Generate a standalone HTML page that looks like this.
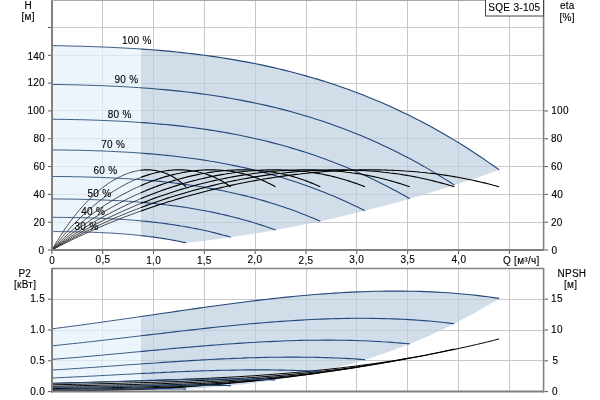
<!DOCTYPE html>
<html><head><meta charset="utf-8"><style>
html,body{margin:0;padding:0;background:#fff;}
svg{display:block;will-change:transform;}
text{font-family:"Liberation Sans",sans-serif;font-size:10px;fill:#000;stroke:#000;stroke-width:0.12px;letter-spacing:0.3px;}
</style></head><body>
<svg width="600" height="400" viewBox="0 0 600 400">
<rect width="600" height="400" fill="#fff"/>
<clipPath id="cl"><rect x="0" y="0" width="141" height="400"/></clipPath>
<clipPath id="cr"><rect x="141" y="0" width="459" height="400"/></clipPath>
<line x1="52" y1="222.50" x2="544" y2="222.50" stroke="#c8c8c8" stroke-width="1"/>
<line x1="52" y1="194.50" x2="544" y2="194.50" stroke="#c8c8c8" stroke-width="1"/>
<line x1="52" y1="166.50" x2="544" y2="166.50" stroke="#c8c8c8" stroke-width="1"/>
<line x1="52" y1="138.50" x2="544" y2="138.50" stroke="#c8c8c8" stroke-width="1"/>
<line x1="52" y1="110.50" x2="544" y2="110.50" stroke="#c8c8c8" stroke-width="1"/>
<line x1="52" y1="83.50" x2="544" y2="83.50" stroke="#c8c8c8" stroke-width="1"/>
<line x1="52" y1="55.50" x2="544" y2="55.50" stroke="#c8c8c8" stroke-width="1"/>
<line x1="52" y1="27.50" x2="544" y2="27.50" stroke="#c8c8c8" stroke-width="1"/>
<line x1="102.50" y1="0" x2="102.50" y2="250.0" stroke="#c8c8c8" stroke-width="1"/>
<line x1="102.50" y1="268.5" x2="102.50" y2="391.6" stroke="#c8c8c8" stroke-width="1"/>
<line x1="153.50" y1="0" x2="153.50" y2="250.0" stroke="#c8c8c8" stroke-width="1"/>
<line x1="153.50" y1="268.5" x2="153.50" y2="391.6" stroke="#c8c8c8" stroke-width="1"/>
<line x1="204.50" y1="0" x2="204.50" y2="250.0" stroke="#c8c8c8" stroke-width="1"/>
<line x1="204.50" y1="268.5" x2="204.50" y2="391.6" stroke="#c8c8c8" stroke-width="1"/>
<line x1="255.50" y1="0" x2="255.50" y2="250.0" stroke="#c8c8c8" stroke-width="1"/>
<line x1="255.50" y1="268.5" x2="255.50" y2="391.6" stroke="#c8c8c8" stroke-width="1"/>
<line x1="306.50" y1="0" x2="306.50" y2="250.0" stroke="#c8c8c8" stroke-width="1"/>
<line x1="306.50" y1="268.5" x2="306.50" y2="391.6" stroke="#c8c8c8" stroke-width="1"/>
<line x1="356.50" y1="0" x2="356.50" y2="250.0" stroke="#c8c8c8" stroke-width="1"/>
<line x1="356.50" y1="268.5" x2="356.50" y2="391.6" stroke="#c8c8c8" stroke-width="1"/>
<line x1="407.50" y1="0" x2="407.50" y2="250.0" stroke="#c8c8c8" stroke-width="1"/>
<line x1="407.50" y1="268.5" x2="407.50" y2="391.6" stroke="#c8c8c8" stroke-width="1"/>
<line x1="458.50" y1="0" x2="458.50" y2="250.0" stroke="#c8c8c8" stroke-width="1"/>
<line x1="458.50" y1="268.5" x2="458.50" y2="391.6" stroke="#c8c8c8" stroke-width="1"/>
<line x1="509.50" y1="0" x2="509.50" y2="250.0" stroke="#c8c8c8" stroke-width="1"/>
<line x1="509.50" y1="268.5" x2="509.50" y2="391.6" stroke="#c8c8c8" stroke-width="1"/>
<line x1="52" y1="360.50" x2="544" y2="360.50" stroke="#c8c8c8" stroke-width="1"/>
<line x1="52" y1="330.50" x2="544" y2="330.50" stroke="#c8c8c8" stroke-width="1"/>
<line x1="52" y1="299.50" x2="544" y2="299.50" stroke="#c8c8c8" stroke-width="1"/>
<path d="M51.9,45.6 57.6,45.7 63.2,45.8 68.9,46.0 74.5,46.1 80.2,46.2 85.9,46.4 91.5,46.6 97.2,46.8 102.9,47.0 108.5,47.2 114.2,47.5 119.8,47.8 125.5,48.1 131.2,48.4 136.8,48.7 142.5,49.1 148.1,49.5 153.8,50.0 159.5,50.4 165.1,50.9 170.8,51.4 176.5,52.0 182.1,52.6 187.8,53.2 193.4,53.9 199.1,54.6 204.8,55.3 210.4,56.1 216.1,56.9 221.7,57.7 227.4,58.6 233.1,59.6 238.7,60.6 244.4,61.6 250.1,62.6 255.7,63.8 261.4,64.9 267.0,66.1 272.7,67.4 278.4,68.7 284.0,70.1 289.7,71.5 295.3,73.0 301.0,74.5 306.7,76.1 312.3,77.7 318.0,79.4 323.7,81.1 329.3,83.0 335.0,84.8 340.6,86.8 346.3,88.8 352.0,90.8 357.6,92.9 363.3,95.1 368.9,97.4 374.6,99.7 380.3,102.1 385.9,104.5 391.6,107.1 397.3,109.7 402.9,112.4 408.6,115.1 414.2,117.9 419.9,120.8 425.6,123.8 431.2,126.8 436.9,130.0 442.5,133.2 448.2,136.5 453.9,139.9 459.5,143.3 465.2,146.8 470.9,150.5 476.5,154.2 482.2,158.0 487.8,161.9 493.5,165.8 499.2,169.9 499.2,169.9 491.1,172.7 483.1,175.5 475.1,178.3 467.0,181.0 459.0,183.6 451.0,186.2 443.0,188.7 434.9,191.2 426.9,193.7 418.9,196.1 410.9,198.4 402.8,200.7 394.8,202.9 386.8,205.1 378.7,207.2 370.7,209.3 362.7,211.3 354.7,213.3 346.6,215.2 338.6,217.1 330.6,218.9 322.5,220.7 314.5,222.4 306.5,224.0 298.5,225.7 290.4,227.2 282.4,228.7 274.4,230.2 266.4,231.6 258.3,232.9 250.3,234.2 242.3,235.5 234.2,236.7 226.2,237.8 218.2,238.9 210.2,240.0 202.1,241.0 194.1,241.9 186.1,242.8 186.1,242.8 184.4,242.4 182.7,242.1 181.0,241.7 179.3,241.4 177.6,241.0 175.9,240.7 174.2,240.4 172.5,240.1 170.8,239.8 169.1,239.5 167.4,239.2 165.7,238.9 164.0,238.6 162.3,238.4 160.6,238.1 158.9,237.9 157.2,237.6 155.5,237.4 153.8,237.1 152.1,236.9 150.4,236.7 148.7,236.5 147.0,236.3 145.3,236.1 143.6,235.9 141.9,235.7 140.2,235.5 138.5,235.3 136.8,235.1 135.1,235.0 133.4,234.8 131.7,234.6 130.0,234.5 128.3,234.3 126.6,234.2 124.9,234.1 123.2,233.9 121.5,233.8 119.8,233.7 118.1,233.6 116.4,233.5 114.7,233.3 113.0,233.2 111.3,233.1 109.6,233.0 107.9,232.9 106.3,232.9 104.6,232.8 102.9,232.7 101.2,232.6 99.5,232.5 97.8,232.5 96.1,232.4 94.4,232.3 92.7,232.3 91.0,232.2 89.3,232.2 87.6,232.1 85.9,232.1 84.2,232.0 82.5,232.0 80.8,232.0 79.1,231.9 77.4,231.9 75.7,231.9 74.0,231.8 72.3,231.8 70.6,231.8 68.9,231.7 67.2,231.7 65.5,231.7 63.8,231.7 62.1,231.7 60.4,231.7 58.7,231.6 57.0,231.6 55.3,231.6 53.6,231.6 51.9,231.6Z" fill="#e5f1fb" fill-opacity="0.7" clip-path="url(#cl)"/>
<path d="M51.9,45.6 57.6,45.7 63.2,45.8 68.9,46.0 74.5,46.1 80.2,46.2 85.9,46.4 91.5,46.6 97.2,46.8 102.9,47.0 108.5,47.2 114.2,47.5 119.8,47.8 125.5,48.1 131.2,48.4 136.8,48.7 142.5,49.1 148.1,49.5 153.8,50.0 159.5,50.4 165.1,50.9 170.8,51.4 176.5,52.0 182.1,52.6 187.8,53.2 193.4,53.9 199.1,54.6 204.8,55.3 210.4,56.1 216.1,56.9 221.7,57.7 227.4,58.6 233.1,59.6 238.7,60.6 244.4,61.6 250.1,62.6 255.7,63.8 261.4,64.9 267.0,66.1 272.7,67.4 278.4,68.7 284.0,70.1 289.7,71.5 295.3,73.0 301.0,74.5 306.7,76.1 312.3,77.7 318.0,79.4 323.7,81.1 329.3,83.0 335.0,84.8 340.6,86.8 346.3,88.8 352.0,90.8 357.6,92.9 363.3,95.1 368.9,97.4 374.6,99.7 380.3,102.1 385.9,104.5 391.6,107.1 397.3,109.7 402.9,112.4 408.6,115.1 414.2,117.9 419.9,120.8 425.6,123.8 431.2,126.8 436.9,130.0 442.5,133.2 448.2,136.5 453.9,139.9 459.5,143.3 465.2,146.8 470.9,150.5 476.5,154.2 482.2,158.0 487.8,161.9 493.5,165.8 499.2,169.9 499.2,169.9 491.1,172.7 483.1,175.5 475.1,178.3 467.0,181.0 459.0,183.6 451.0,186.2 443.0,188.7 434.9,191.2 426.9,193.7 418.9,196.1 410.9,198.4 402.8,200.7 394.8,202.9 386.8,205.1 378.7,207.2 370.7,209.3 362.7,211.3 354.7,213.3 346.6,215.2 338.6,217.1 330.6,218.9 322.5,220.7 314.5,222.4 306.5,224.0 298.5,225.7 290.4,227.2 282.4,228.7 274.4,230.2 266.4,231.6 258.3,232.9 250.3,234.2 242.3,235.5 234.2,236.7 226.2,237.8 218.2,238.9 210.2,240.0 202.1,241.0 194.1,241.9 186.1,242.8 186.1,242.8 184.4,242.4 182.7,242.1 181.0,241.7 179.3,241.4 177.6,241.0 175.9,240.7 174.2,240.4 172.5,240.1 170.8,239.8 169.1,239.5 167.4,239.2 165.7,238.9 164.0,238.6 162.3,238.4 160.6,238.1 158.9,237.9 157.2,237.6 155.5,237.4 153.8,237.1 152.1,236.9 150.4,236.7 148.7,236.5 147.0,236.3 145.3,236.1 143.6,235.9 141.9,235.7 140.2,235.5 138.5,235.3 136.8,235.1 135.1,235.0 133.4,234.8 131.7,234.6 130.0,234.5 128.3,234.3 126.6,234.2 124.9,234.1 123.2,233.9 121.5,233.8 119.8,233.7 118.1,233.6 116.4,233.5 114.7,233.3 113.0,233.2 111.3,233.1 109.6,233.0 107.9,232.9 106.3,232.9 104.6,232.8 102.9,232.7 101.2,232.6 99.5,232.5 97.8,232.5 96.1,232.4 94.4,232.3 92.7,232.3 91.0,232.2 89.3,232.2 87.6,232.1 85.9,232.1 84.2,232.0 82.5,232.0 80.8,232.0 79.1,231.9 77.4,231.9 75.7,231.9 74.0,231.8 72.3,231.8 70.6,231.8 68.9,231.7 67.2,231.7 65.5,231.7 63.8,231.7 62.1,231.7 60.4,231.7 58.7,231.6 57.0,231.6 55.3,231.6 53.6,231.6 51.9,231.6Z" fill="#bdcede" fill-opacity="0.7" clip-path="url(#cr)"/>
<path d="M51.9,328.8 57.6,328.1 63.2,327.4 68.9,326.6 74.5,325.9 80.2,325.2 85.9,324.4 91.5,323.6 97.2,322.8 102.9,322.0 108.5,321.2 114.2,320.4 119.8,319.6 125.5,318.8 131.2,318.0 136.8,317.2 142.5,316.3 148.1,315.5 153.8,314.7 159.5,313.8 165.1,313.0 170.8,312.2 176.5,311.4 182.1,310.5 187.8,309.7 193.4,308.9 199.1,308.1 204.8,307.3 210.4,306.5 216.1,305.7 221.7,305.0 227.4,304.2 233.1,303.5 238.7,302.7 244.4,302.0 250.1,301.3 255.7,300.6 261.4,299.9 267.0,299.3 272.7,298.6 278.4,298.0 284.0,297.4 289.7,296.9 295.3,296.3 301.0,295.8 306.7,295.3 312.3,294.8 318.0,294.3 323.7,293.9 329.3,293.5 335.0,293.1 340.6,292.8 346.3,292.4 352.0,292.1 357.6,291.9 363.3,291.7 368.9,291.5 374.6,291.3 380.3,291.2 385.9,291.1 391.6,291.1 397.3,291.1 402.9,291.1 408.6,291.2 414.2,291.3 419.9,291.4 425.6,291.6 431.2,291.9 436.9,292.1 442.5,292.5 448.2,292.8 453.9,293.3 459.5,293.7 465.2,294.3 470.9,294.8 476.5,295.4 482.2,296.1 487.8,296.8 493.5,297.6 499.2,298.4 499.2,298.4 491.1,303.4 483.1,308.1 475.1,312.7 467.0,317.1 459.0,321.3 451.0,325.4 443.0,329.3 434.9,333.1 426.9,336.7 418.9,340.1 410.9,343.4 402.8,346.6 394.8,349.6 386.8,352.5 378.7,355.2 370.7,357.9 362.7,360.3 354.7,362.7 346.6,364.9 338.6,367.1 330.6,369.1 322.5,371.0 314.5,372.7 306.5,374.4 298.5,376.0 290.4,377.5 282.4,378.8 274.4,380.1 266.4,381.3 258.3,382.4 250.3,383.5 242.3,384.4 234.2,385.3 226.2,386.1 218.2,386.8 210.2,387.5 202.1,388.1 194.1,388.6 186.1,389.1 186.1,389.1 184.4,389.1 182.7,389.0 181.0,389.0 179.3,389.0 177.6,389.0 175.9,389.0 174.2,389.0 172.5,388.9 170.8,388.9 169.1,388.9 167.4,388.9 165.7,388.9 164.0,388.9 162.3,388.9 160.6,388.9 158.9,388.9 157.2,388.9 155.5,388.9 153.8,388.9 152.1,388.9 150.4,388.9 148.7,388.9 147.0,388.9 145.3,388.9 143.6,388.9 141.9,388.9 140.2,388.9 138.5,388.9 136.8,388.9 135.1,389.0 133.4,389.0 131.7,389.0 130.0,389.0 128.3,389.0 126.6,389.0 124.9,389.0 123.2,389.0 121.5,389.1 119.8,389.1 118.1,389.1 116.4,389.1 114.7,389.1 113.0,389.1 111.3,389.2 109.6,389.2 107.9,389.2 106.3,389.2 104.6,389.2 102.9,389.3 101.2,389.3 99.5,389.3 97.8,389.3 96.1,389.3 94.4,389.4 92.7,389.4 91.0,389.4 89.3,389.4 87.6,389.5 85.9,389.5 84.2,389.5 82.5,389.5 80.8,389.5 79.1,389.6 77.4,389.6 75.7,389.6 74.0,389.6 72.3,389.7 70.6,389.7 68.9,389.7 67.2,389.7 65.5,389.7 63.8,389.8 62.1,389.8 60.4,389.8 58.7,389.8 57.0,389.8 55.3,389.9 53.6,389.9 51.9,389.9Z" fill="#e5f1fb" fill-opacity="0.7" clip-path="url(#cl)"/>
<path d="M51.9,328.8 57.6,328.1 63.2,327.4 68.9,326.6 74.5,325.9 80.2,325.2 85.9,324.4 91.5,323.6 97.2,322.8 102.9,322.0 108.5,321.2 114.2,320.4 119.8,319.6 125.5,318.8 131.2,318.0 136.8,317.2 142.5,316.3 148.1,315.5 153.8,314.7 159.5,313.8 165.1,313.0 170.8,312.2 176.5,311.4 182.1,310.5 187.8,309.7 193.4,308.9 199.1,308.1 204.8,307.3 210.4,306.5 216.1,305.7 221.7,305.0 227.4,304.2 233.1,303.5 238.7,302.7 244.4,302.0 250.1,301.3 255.7,300.6 261.4,299.9 267.0,299.3 272.7,298.6 278.4,298.0 284.0,297.4 289.7,296.9 295.3,296.3 301.0,295.8 306.7,295.3 312.3,294.8 318.0,294.3 323.7,293.9 329.3,293.5 335.0,293.1 340.6,292.8 346.3,292.4 352.0,292.1 357.6,291.9 363.3,291.7 368.9,291.5 374.6,291.3 380.3,291.2 385.9,291.1 391.6,291.1 397.3,291.1 402.9,291.1 408.6,291.2 414.2,291.3 419.9,291.4 425.6,291.6 431.2,291.9 436.9,292.1 442.5,292.5 448.2,292.8 453.9,293.3 459.5,293.7 465.2,294.3 470.9,294.8 476.5,295.4 482.2,296.1 487.8,296.8 493.5,297.6 499.2,298.4 499.2,298.4 491.1,303.4 483.1,308.1 475.1,312.7 467.0,317.1 459.0,321.3 451.0,325.4 443.0,329.3 434.9,333.1 426.9,336.7 418.9,340.1 410.9,343.4 402.8,346.6 394.8,349.6 386.8,352.5 378.7,355.2 370.7,357.9 362.7,360.3 354.7,362.7 346.6,364.9 338.6,367.1 330.6,369.1 322.5,371.0 314.5,372.7 306.5,374.4 298.5,376.0 290.4,377.5 282.4,378.8 274.4,380.1 266.4,381.3 258.3,382.4 250.3,383.5 242.3,384.4 234.2,385.3 226.2,386.1 218.2,386.8 210.2,387.5 202.1,388.1 194.1,388.6 186.1,389.1 186.1,389.1 184.4,389.1 182.7,389.0 181.0,389.0 179.3,389.0 177.6,389.0 175.9,389.0 174.2,389.0 172.5,388.9 170.8,388.9 169.1,388.9 167.4,388.9 165.7,388.9 164.0,388.9 162.3,388.9 160.6,388.9 158.9,388.9 157.2,388.9 155.5,388.9 153.8,388.9 152.1,388.9 150.4,388.9 148.7,388.9 147.0,388.9 145.3,388.9 143.6,388.9 141.9,388.9 140.2,388.9 138.5,388.9 136.8,388.9 135.1,389.0 133.4,389.0 131.7,389.0 130.0,389.0 128.3,389.0 126.6,389.0 124.9,389.0 123.2,389.0 121.5,389.1 119.8,389.1 118.1,389.1 116.4,389.1 114.7,389.1 113.0,389.1 111.3,389.2 109.6,389.2 107.9,389.2 106.3,389.2 104.6,389.2 102.9,389.3 101.2,389.3 99.5,389.3 97.8,389.3 96.1,389.3 94.4,389.4 92.7,389.4 91.0,389.4 89.3,389.4 87.6,389.5 85.9,389.5 84.2,389.5 82.5,389.5 80.8,389.5 79.1,389.6 77.4,389.6 75.7,389.6 74.0,389.6 72.3,389.7 70.6,389.7 68.9,389.7 67.2,389.7 65.5,389.7 63.8,389.8 62.1,389.8 60.4,389.8 58.7,389.8 57.0,389.8 55.3,389.9 53.6,389.9 51.9,389.9Z" fill="#bdcede" fill-opacity="0.7" clip-path="url(#cr)"/>
<path d="M51.9,45.6 57.6,45.7 63.2,45.8 68.9,46.0 74.5,46.1 80.2,46.2 85.9,46.4 91.5,46.6 97.2,46.8 102.9,47.0 108.5,47.2 114.2,47.5 119.8,47.8 125.5,48.1 131.2,48.4 136.8,48.7 142.5,49.1 148.1,49.5 153.8,50.0 159.5,50.4 165.1,50.9 170.8,51.4 176.5,52.0 182.1,52.6 187.8,53.2 193.4,53.9 199.1,54.6 204.8,55.3 210.4,56.1 216.1,56.9 221.7,57.7 227.4,58.6 233.1,59.6 238.7,60.6 244.4,61.6 250.1,62.6 255.7,63.8 261.4,64.9 267.0,66.1 272.7,67.4 278.4,68.7 284.0,70.1 289.7,71.5 295.3,73.0 301.0,74.5 306.7,76.1 312.3,77.7 318.0,79.4 323.7,81.1 329.3,83.0 335.0,84.8 340.6,86.8 346.3,88.8 352.0,90.8 357.6,92.9 363.3,95.1 368.9,97.4 374.6,99.7 380.3,102.1 385.9,104.5 391.6,107.1 397.3,109.7 402.9,112.4 408.6,115.1 414.2,117.9 419.9,120.8 425.6,123.8 431.2,126.8 436.9,130.0 442.5,133.2 448.2,136.5 453.9,139.9 459.5,143.3 465.2,146.8 470.9,150.5 476.5,154.2 482.2,158.0 487.8,161.9 493.5,165.8 499.2,169.9" fill="none" stroke="#3d5b85" stroke-width="1.0" clip-path="url(#cl)"/>
<path d="M51.9,45.6 57.6,45.7 63.2,45.8 68.9,46.0 74.5,46.1 80.2,46.2 85.9,46.4 91.5,46.6 97.2,46.8 102.9,47.0 108.5,47.2 114.2,47.5 119.8,47.8 125.5,48.1 131.2,48.4 136.8,48.7 142.5,49.1 148.1,49.5 153.8,50.0 159.5,50.4 165.1,50.9 170.8,51.4 176.5,52.0 182.1,52.6 187.8,53.2 193.4,53.9 199.1,54.6 204.8,55.3 210.4,56.1 216.1,56.9 221.7,57.7 227.4,58.6 233.1,59.6 238.7,60.6 244.4,61.6 250.1,62.6 255.7,63.8 261.4,64.9 267.0,66.1 272.7,67.4 278.4,68.7 284.0,70.1 289.7,71.5 295.3,73.0 301.0,74.5 306.7,76.1 312.3,77.7 318.0,79.4 323.7,81.1 329.3,83.0 335.0,84.8 340.6,86.8 346.3,88.8 352.0,90.8 357.6,92.9 363.3,95.1 368.9,97.4 374.6,99.7 380.3,102.1 385.9,104.5 391.6,107.1 397.3,109.7 402.9,112.4 408.6,115.1 414.2,117.9 419.9,120.8 425.6,123.8 431.2,126.8 436.9,130.0 442.5,133.2 448.2,136.5 453.9,139.9 459.5,143.3 465.2,146.8 470.9,150.5 476.5,154.2 482.2,158.0 487.8,161.9 493.5,165.8 499.2,169.9" fill="none" stroke="#22477a" stroke-width="1.1" clip-path="url(#cr)"/>
<path d="M51.9,84.5 57.0,84.5 62.1,84.6 67.2,84.7 72.3,84.8 77.4,84.9 82.5,85.1 87.6,85.2 92.7,85.4 97.8,85.6 102.9,85.7 107.9,86.0 113.0,86.2 118.1,86.4 123.2,86.7 128.3,87.0 133.4,87.3 138.5,87.6 143.6,88.0 148.7,88.3 153.8,88.7 158.9,89.2 164.0,89.6 169.1,90.1 174.2,90.6 179.3,91.1 184.4,91.7 189.5,92.3 194.6,92.9 199.7,93.6 204.8,94.3 209.9,95.0 215.0,95.8 220.0,96.5 225.1,97.4 230.2,98.2 235.3,99.2 240.4,100.1 245.5,101.1 250.6,102.1 255.7,103.2 260.8,104.3 265.9,105.4 271.0,106.6 276.1,107.8 281.2,109.1 286.3,110.4 291.4,111.8 296.5,113.2 301.6,114.7 306.7,116.2 311.8,117.8 316.9,119.4 322.0,121.1 327.0,122.8 332.1,124.5 337.2,126.4 342.3,128.3 347.4,130.2 352.5,132.2 357.6,134.2 362.7,136.3 367.8,138.5 372.9,140.7 378.0,143.0 383.1,145.4 388.2,147.8 393.3,150.2 398.4,152.8 403.5,155.4 408.6,158.0 413.7,160.8 418.8,163.6 423.9,166.4 429.0,169.4 434.1,172.4 439.1,175.5 444.2,178.6 449.3,181.8 454.4,185.1" fill="none" stroke="#3d5b85" stroke-width="1.0" clip-path="url(#cl)"/>
<path d="M51.9,84.5 57.0,84.5 62.1,84.6 67.2,84.7 72.3,84.8 77.4,84.9 82.5,85.1 87.6,85.2 92.7,85.4 97.8,85.6 102.9,85.7 107.9,86.0 113.0,86.2 118.1,86.4 123.2,86.7 128.3,87.0 133.4,87.3 138.5,87.6 143.6,88.0 148.7,88.3 153.8,88.7 158.9,89.2 164.0,89.6 169.1,90.1 174.2,90.6 179.3,91.1 184.4,91.7 189.5,92.3 194.6,92.9 199.7,93.6 204.8,94.3 209.9,95.0 215.0,95.8 220.0,96.5 225.1,97.4 230.2,98.2 235.3,99.2 240.4,100.1 245.5,101.1 250.6,102.1 255.7,103.2 260.8,104.3 265.9,105.4 271.0,106.6 276.1,107.8 281.2,109.1 286.3,110.4 291.4,111.8 296.5,113.2 301.6,114.7 306.7,116.2 311.8,117.8 316.9,119.4 322.0,121.1 327.0,122.8 332.1,124.5 337.2,126.4 342.3,128.3 347.4,130.2 352.5,132.2 357.6,134.2 362.7,136.3 367.8,138.5 372.9,140.7 378.0,143.0 383.1,145.4 388.2,147.8 393.3,150.2 398.4,152.8 403.5,155.4 408.6,158.0 413.7,160.8 418.8,163.6 423.9,166.4 429.0,169.4 434.1,172.4 439.1,175.5 444.2,178.6 449.3,181.8 454.4,185.1" fill="none" stroke="#22477a" stroke-width="1.1" clip-path="url(#cr)"/>
<path d="M51.9,119.2 56.4,119.3 61.0,119.3 65.5,119.4 70.0,119.5 74.5,119.6 79.1,119.7 83.6,119.8 88.1,119.9 92.7,120.1 97.2,120.2 101.7,120.4 106.3,120.6 110.8,120.8 115.3,121.0 119.8,121.2 124.4,121.4 128.9,121.7 133.4,122.0 138.0,122.3 142.5,122.6 147.0,122.9 151.5,123.3 156.1,123.7 160.6,124.1 165.1,124.5 169.7,124.9 174.2,125.4 178.7,125.9 183.2,126.4 187.8,127.0 192.3,127.5 196.8,128.1 201.4,128.8 205.9,129.4 210.4,130.1 215.0,130.8 219.5,131.6 224.0,132.3 228.5,133.1 233.1,134.0 237.6,134.8 242.1,135.8 246.7,136.7 251.2,137.7 255.7,138.7 260.2,139.7 264.8,140.8 269.3,141.9 273.8,143.1 278.4,144.3 282.9,145.5 287.4,146.8 291.9,148.1 296.5,149.5 301.0,150.9 305.5,152.3 310.1,153.8 314.6,155.3 319.1,156.9 323.7,158.5 328.2,160.2 332.7,161.9 337.2,163.7 341.8,165.5 346.3,167.3 350.8,169.2 355.4,171.2 359.9,173.2 364.4,175.2 368.9,177.3 373.5,179.5 378.0,181.7 382.5,184.0 387.1,186.3 391.6,188.7 396.1,191.1 400.6,193.6 405.2,196.1 409.7,198.7" fill="none" stroke="#3d5b85" stroke-width="1.0" clip-path="url(#cl)"/>
<path d="M51.9,119.2 56.4,119.3 61.0,119.3 65.5,119.4 70.0,119.5 74.5,119.6 79.1,119.7 83.6,119.8 88.1,119.9 92.7,120.1 97.2,120.2 101.7,120.4 106.3,120.6 110.8,120.8 115.3,121.0 119.8,121.2 124.4,121.4 128.9,121.7 133.4,122.0 138.0,122.3 142.5,122.6 147.0,122.9 151.5,123.3 156.1,123.7 160.6,124.1 165.1,124.5 169.7,124.9 174.2,125.4 178.7,125.9 183.2,126.4 187.8,127.0 192.3,127.5 196.8,128.1 201.4,128.8 205.9,129.4 210.4,130.1 215.0,130.8 219.5,131.6 224.0,132.3 228.5,133.1 233.1,134.0 237.6,134.8 242.1,135.8 246.7,136.7 251.2,137.7 255.7,138.7 260.2,139.7 264.8,140.8 269.3,141.9 273.8,143.1 278.4,144.3 282.9,145.5 287.4,146.8 291.9,148.1 296.5,149.5 301.0,150.9 305.5,152.3 310.1,153.8 314.6,155.3 319.1,156.9 323.7,158.5 328.2,160.2 332.7,161.9 337.2,163.7 341.8,165.5 346.3,167.3 350.8,169.2 355.4,171.2 359.9,173.2 364.4,175.2 368.9,177.3 373.5,179.5 378.0,181.7 382.5,184.0 387.1,186.3 391.6,188.7 396.1,191.1 400.6,193.6 405.2,196.1 409.7,198.7" fill="none" stroke="#22477a" stroke-width="1.1" clip-path="url(#cr)"/>
<path d="M51.9,149.9 55.9,149.9 59.8,150.0 63.8,150.0 67.8,150.1 71.7,150.2 75.7,150.2 79.6,150.3 83.6,150.4 87.6,150.5 91.5,150.6 95.5,150.8 99.5,150.9 103.4,151.0 107.4,151.2 111.3,151.4 115.3,151.6 119.3,151.8 123.2,152.0 127.2,152.2 131.2,152.4 135.1,152.7 139.1,153.0 143.1,153.3 147.0,153.6 151.0,153.9 154.9,154.2 158.9,154.6 162.9,155.0 166.8,155.4 170.8,155.8 174.8,156.2 178.7,156.7 182.7,157.2 186.6,157.7 190.6,158.2 194.6,158.7 198.5,159.3 202.5,159.9 206.5,160.5 210.4,161.2 214.4,161.8 218.3,162.5 222.3,163.3 226.3,164.0 230.2,164.8 234.2,165.6 238.2,166.4 242.1,167.3 246.1,168.1 250.1,169.1 254.0,170.0 258.0,171.0 261.9,172.0 265.9,173.0 269.9,174.1 273.8,175.2 277.8,176.4 281.8,177.5 285.7,178.7 289.7,180.0 293.6,181.2 297.6,182.6 301.6,183.9 305.5,185.3 309.5,186.7 313.5,188.2 317.4,189.7 321.4,191.2 325.4,192.8 329.3,194.4 333.3,196.0 337.2,197.7 341.2,199.5 345.2,201.2 349.1,203.0 353.1,204.9 357.1,206.8 361.0,208.8 365.0,210.7" fill="none" stroke="#3d5b85" stroke-width="1.0" clip-path="url(#cl)"/>
<path d="M51.9,149.9 55.9,149.9 59.8,150.0 63.8,150.0 67.8,150.1 71.7,150.2 75.7,150.2 79.6,150.3 83.6,150.4 87.6,150.5 91.5,150.6 95.5,150.8 99.5,150.9 103.4,151.0 107.4,151.2 111.3,151.4 115.3,151.6 119.3,151.8 123.2,152.0 127.2,152.2 131.2,152.4 135.1,152.7 139.1,153.0 143.1,153.3 147.0,153.6 151.0,153.9 154.9,154.2 158.9,154.6 162.9,155.0 166.8,155.4 170.8,155.8 174.8,156.2 178.7,156.7 182.7,157.2 186.6,157.7 190.6,158.2 194.6,158.7 198.5,159.3 202.5,159.9 206.5,160.5 210.4,161.2 214.4,161.8 218.3,162.5 222.3,163.3 226.3,164.0 230.2,164.8 234.2,165.6 238.2,166.4 242.1,167.3 246.1,168.1 250.1,169.1 254.0,170.0 258.0,171.0 261.9,172.0 265.9,173.0 269.9,174.1 273.8,175.2 277.8,176.4 281.8,177.5 285.7,178.7 289.7,180.0 293.6,181.2 297.6,182.6 301.6,183.9 305.5,185.3 309.5,186.7 313.5,188.2 317.4,189.7 321.4,191.2 325.4,192.8 329.3,194.4 333.3,196.0 337.2,197.7 341.2,199.5 345.2,201.2 349.1,203.0 353.1,204.9 357.1,206.8 361.0,208.8 365.0,210.7" fill="none" stroke="#22477a" stroke-width="1.1" clip-path="url(#cr)"/>
<path d="M51.9,176.4 55.3,176.5 58.7,176.5 62.1,176.5 65.5,176.6 68.9,176.6 72.3,176.7 75.7,176.8 79.1,176.8 82.5,176.9 85.9,177.0 89.3,177.1 92.7,177.2 96.1,177.3 99.5,177.4 102.9,177.5 106.3,177.7 109.6,177.8 113.0,178.0 116.4,178.2 119.8,178.3 123.2,178.5 126.6,178.7 130.0,178.9 133.4,179.2 136.8,179.4 140.2,179.6 143.6,179.9 147.0,180.2 150.4,180.5 153.8,180.8 157.2,181.1 160.6,181.4 164.0,181.8 167.4,182.2 170.8,182.6 174.2,183.0 177.6,183.4 181.0,183.8 184.4,184.3 187.8,184.7 191.2,185.2 194.6,185.7 198.0,186.3 201.4,186.8 204.8,187.4 208.2,188.0 211.6,188.6 215.0,189.2 218.3,189.9 221.7,190.5 225.1,191.2 228.5,192.0 231.9,192.7 235.3,193.5 238.7,194.2 242.1,195.1 245.5,195.9 248.9,196.8 252.3,197.6 255.7,198.5 259.1,199.5 262.5,200.4 265.9,201.4 269.3,202.5 272.7,203.5 276.1,204.6 279.5,205.7 282.9,206.8 286.3,207.9 289.7,209.1 293.1,210.3 296.5,211.6 299.9,212.9 303.3,214.2 306.7,215.5 310.1,216.9 313.5,218.3 316.9,219.7 320.3,221.2" fill="none" stroke="#3d5b85" stroke-width="1.0" clip-path="url(#cl)"/>
<path d="M51.9,176.4 55.3,176.5 58.7,176.5 62.1,176.5 65.5,176.6 68.9,176.6 72.3,176.7 75.7,176.8 79.1,176.8 82.5,176.9 85.9,177.0 89.3,177.1 92.7,177.2 96.1,177.3 99.5,177.4 102.9,177.5 106.3,177.7 109.6,177.8 113.0,178.0 116.4,178.2 119.8,178.3 123.2,178.5 126.6,178.7 130.0,178.9 133.4,179.2 136.8,179.4 140.2,179.6 143.6,179.9 147.0,180.2 150.4,180.5 153.8,180.8 157.2,181.1 160.6,181.4 164.0,181.8 167.4,182.2 170.8,182.6 174.2,183.0 177.6,183.4 181.0,183.8 184.4,184.3 187.8,184.7 191.2,185.2 194.6,185.7 198.0,186.3 201.4,186.8 204.8,187.4 208.2,188.0 211.6,188.6 215.0,189.2 218.3,189.9 221.7,190.5 225.1,191.2 228.5,192.0 231.9,192.7 235.3,193.5 238.7,194.2 242.1,195.1 245.5,195.9 248.9,196.8 252.3,197.6 255.7,198.5 259.1,199.5 262.5,200.4 265.9,201.4 269.3,202.5 272.7,203.5 276.1,204.6 279.5,205.7 282.9,206.8 286.3,207.9 289.7,209.1 293.1,210.3 296.5,211.6 299.9,212.9 303.3,214.2 306.7,215.5 310.1,216.9 313.5,218.3 316.9,219.7 320.3,221.2" fill="none" stroke="#22477a" stroke-width="1.1" clip-path="url(#cr)"/>
<path d="M51.9,198.9 54.7,198.9 57.6,199.0 60.4,199.0 63.2,199.0 66.1,199.1 68.9,199.1 71.7,199.1 74.5,199.2 77.4,199.2 80.2,199.3 83.0,199.4 85.9,199.4 88.7,199.5 91.5,199.6 94.4,199.7 97.2,199.8 100.0,199.9 102.9,200.0 105.7,200.1 108.5,200.2 111.3,200.4 114.2,200.5 117.0,200.6 119.8,200.8 122.7,201.0 125.5,201.1 128.3,201.3 131.2,201.5 134.0,201.7 136.8,201.9 139.7,202.2 142.5,202.4 145.3,202.6 148.1,202.9 151.0,203.2 153.8,203.4 156.6,203.7 159.5,204.0 162.3,204.4 165.1,204.7 168.0,205.0 170.8,205.4 173.6,205.7 176.5,206.1 179.3,206.5 182.1,206.9 184.9,207.3 187.8,207.8 190.6,208.2 193.4,208.7 196.3,209.2 199.1,209.7 201.9,210.2 204.8,210.7 207.6,211.3 210.4,211.8 213.3,212.4 216.1,213.0 218.9,213.6 221.7,214.3 224.6,214.9 227.4,215.6 230.2,216.3 233.1,217.0 235.9,217.7 238.7,218.4 241.6,219.2 244.4,220.0 247.2,220.8 250.1,221.6 252.9,222.5 255.7,223.3 258.5,224.2 261.4,225.1 264.2,226.0 267.0,227.0 269.9,228.0 272.7,229.0 275.5,230.0" fill="none" stroke="#3d5b85" stroke-width="1.0" clip-path="url(#cl)"/>
<path d="M51.9,198.9 54.7,198.9 57.6,199.0 60.4,199.0 63.2,199.0 66.1,199.1 68.9,199.1 71.7,199.1 74.5,199.2 77.4,199.2 80.2,199.3 83.0,199.4 85.9,199.4 88.7,199.5 91.5,199.6 94.4,199.7 97.2,199.8 100.0,199.9 102.9,200.0 105.7,200.1 108.5,200.2 111.3,200.4 114.2,200.5 117.0,200.6 119.8,200.8 122.7,201.0 125.5,201.1 128.3,201.3 131.2,201.5 134.0,201.7 136.8,201.9 139.7,202.2 142.5,202.4 145.3,202.6 148.1,202.9 151.0,203.2 153.8,203.4 156.6,203.7 159.5,204.0 162.3,204.4 165.1,204.7 168.0,205.0 170.8,205.4 173.6,205.7 176.5,206.1 179.3,206.5 182.1,206.9 184.9,207.3 187.8,207.8 190.6,208.2 193.4,208.7 196.3,209.2 199.1,209.7 201.9,210.2 204.8,210.7 207.6,211.3 210.4,211.8 213.3,212.4 216.1,213.0 218.9,213.6 221.7,214.3 224.6,214.9 227.4,215.6 230.2,216.3 233.1,217.0 235.9,217.7 238.7,218.4 241.6,219.2 244.4,220.0 247.2,220.8 250.1,221.6 252.9,222.5 255.7,223.3 258.5,224.2 261.4,225.1 264.2,226.0 267.0,227.0 269.9,228.0 272.7,229.0 275.5,230.0" fill="none" stroke="#22477a" stroke-width="1.1" clip-path="url(#cr)"/>
<path d="M51.9,217.3 54.2,217.3 56.4,217.3 58.7,217.4 61.0,217.4 63.2,217.4 65.5,217.4 67.8,217.5 70.0,217.5 72.3,217.5 74.5,217.6 76.8,217.6 79.1,217.6 81.3,217.7 83.6,217.7 85.9,217.8 88.1,217.9 90.4,217.9 92.7,218.0 94.9,218.1 97.2,218.1 99.5,218.2 101.7,218.3 104.0,218.4 106.3,218.5 108.5,218.6 110.8,218.7 113.0,218.8 115.3,219.0 117.6,219.1 119.8,219.2 122.1,219.4 124.4,219.5 126.6,219.7 128.9,219.9 131.2,220.0 133.4,220.2 135.7,220.4 138.0,220.6 140.2,220.8 142.5,221.0 144.7,221.2 147.0,221.4 149.3,221.7 151.5,221.9 153.8,222.2 156.1,222.4 158.3,222.7 160.6,223.0 162.9,223.3 165.1,223.6 167.4,223.9 169.7,224.2 171.9,224.5 174.2,224.9 176.5,225.2 178.7,225.6 181.0,226.0 183.2,226.3 185.5,226.7 187.8,227.1 190.0,227.5 192.3,228.0 194.6,228.4 196.8,228.9 199.1,229.3 201.4,229.8 203.6,230.3 205.9,230.8 208.2,231.3 210.4,231.8 212.7,232.4 215.0,232.9 217.2,233.5 219.5,234.1 221.7,234.7 224.0,235.3 226.3,235.9 228.5,236.5 230.8,237.2" fill="none" stroke="#3d5b85" stroke-width="1.0" clip-path="url(#cl)"/>
<path d="M51.9,217.3 54.2,217.3 56.4,217.3 58.7,217.4 61.0,217.4 63.2,217.4 65.5,217.4 67.8,217.5 70.0,217.5 72.3,217.5 74.5,217.6 76.8,217.6 79.1,217.6 81.3,217.7 83.6,217.7 85.9,217.8 88.1,217.9 90.4,217.9 92.7,218.0 94.9,218.1 97.2,218.1 99.5,218.2 101.7,218.3 104.0,218.4 106.3,218.5 108.5,218.6 110.8,218.7 113.0,218.8 115.3,219.0 117.6,219.1 119.8,219.2 122.1,219.4 124.4,219.5 126.6,219.7 128.9,219.9 131.2,220.0 133.4,220.2 135.7,220.4 138.0,220.6 140.2,220.8 142.5,221.0 144.7,221.2 147.0,221.4 149.3,221.7 151.5,221.9 153.8,222.2 156.1,222.4 158.3,222.7 160.6,223.0 162.9,223.3 165.1,223.6 167.4,223.9 169.7,224.2 171.9,224.5 174.2,224.9 176.5,225.2 178.7,225.6 181.0,226.0 183.2,226.3 185.5,226.7 187.8,227.1 190.0,227.5 192.3,228.0 194.6,228.4 196.8,228.9 199.1,229.3 201.4,229.8 203.6,230.3 205.9,230.8 208.2,231.3 210.4,231.8 212.7,232.4 215.0,232.9 217.2,233.5 219.5,234.1 221.7,234.7 224.0,235.3 226.3,235.9 228.5,236.5 230.8,237.2" fill="none" stroke="#22477a" stroke-width="1.1" clip-path="url(#cr)"/>
<path d="M51.9,231.6 53.6,231.6 55.3,231.6 57.0,231.6 58.7,231.6 60.4,231.7 62.1,231.7 63.8,231.7 65.5,231.7 67.2,231.7 68.9,231.7 70.6,231.8 72.3,231.8 74.0,231.8 75.7,231.9 77.4,231.9 79.1,231.9 80.8,232.0 82.5,232.0 84.2,232.0 85.9,232.1 87.6,232.1 89.3,232.2 91.0,232.2 92.7,232.3 94.4,232.3 96.1,232.4 97.8,232.5 99.5,232.5 101.2,232.6 102.9,232.7 104.6,232.8 106.3,232.9 107.9,232.9 109.6,233.0 111.3,233.1 113.0,233.2 114.7,233.3 116.4,233.5 118.1,233.6 119.8,233.7 121.5,233.8 123.2,233.9 124.9,234.1 126.6,234.2 128.3,234.3 130.0,234.5 131.7,234.6 133.4,234.8 135.1,235.0 136.8,235.1 138.5,235.3 140.2,235.5 141.9,235.7 143.6,235.9 145.3,236.1 147.0,236.3 148.7,236.5 150.4,236.7 152.1,236.9 153.8,237.1 155.5,237.4 157.2,237.6 158.9,237.9 160.6,238.1 162.3,238.4 164.0,238.6 165.7,238.9 167.4,239.2 169.1,239.5 170.8,239.8 172.5,240.1 174.2,240.4 175.9,240.7 177.6,241.0 179.3,241.4 181.0,241.7 182.7,242.1 184.4,242.4 186.1,242.8" fill="none" stroke="#3d5b85" stroke-width="1.0" clip-path="url(#cl)"/>
<path d="M51.9,231.6 53.6,231.6 55.3,231.6 57.0,231.6 58.7,231.6 60.4,231.7 62.1,231.7 63.8,231.7 65.5,231.7 67.2,231.7 68.9,231.7 70.6,231.8 72.3,231.8 74.0,231.8 75.7,231.9 77.4,231.9 79.1,231.9 80.8,232.0 82.5,232.0 84.2,232.0 85.9,232.1 87.6,232.1 89.3,232.2 91.0,232.2 92.7,232.3 94.4,232.3 96.1,232.4 97.8,232.5 99.5,232.5 101.2,232.6 102.9,232.7 104.6,232.8 106.3,232.9 107.9,232.9 109.6,233.0 111.3,233.1 113.0,233.2 114.7,233.3 116.4,233.5 118.1,233.6 119.8,233.7 121.5,233.8 123.2,233.9 124.9,234.1 126.6,234.2 128.3,234.3 130.0,234.5 131.7,234.6 133.4,234.8 135.1,235.0 136.8,235.1 138.5,235.3 140.2,235.5 141.9,235.7 143.6,235.9 145.3,236.1 147.0,236.3 148.7,236.5 150.4,236.7 152.1,236.9 153.8,237.1 155.5,237.4 157.2,237.6 158.9,237.9 160.6,238.1 162.3,238.4 164.0,238.6 165.7,238.9 167.4,239.2 169.1,239.5 170.8,239.8 172.5,240.1 174.2,240.4 175.9,240.7 177.6,241.0 179.3,241.4 181.0,241.7 182.7,242.1 184.4,242.4 186.1,242.8" fill="none" stroke="#22477a" stroke-width="1.1" clip-path="url(#cr)"/>
<path d="M51.9,250.0 55.7,248.0 59.4,246.1 63.2,244.2 66.9,242.3 70.7,240.5 74.5,238.6 78.2,236.8 82.0,235.1 85.7,233.4 89.5,231.7 93.2,230.0 97.0,228.3 100.8,226.7 104.5,225.1 108.3,223.5 112.0,222.0 115.8,220.5 119.6,219.0 123.3,217.5 127.1,216.1 130.8,214.7 134.6,213.3 138.3,211.9 142.1,210.6 145.9,209.3 149.6,208.0 153.4,206.7 157.1,205.4 160.9,204.2 164.7,203.0 168.4,201.8 172.2,200.7 175.9,199.5 179.7,198.4 183.4,197.3 187.2,196.3 191.0,195.2 194.7,194.2 198.5,193.2 202.2,192.2 206.0,191.3 209.8,190.3 213.5,189.4 217.3,188.5 221.0,187.6 224.8,186.8 228.5,185.9 232.3,185.1 236.1,184.3 239.8,183.5 243.6,182.8 247.3,182.0 251.1,181.3 254.9,180.6 258.6,180.0 262.4,179.3 266.1,178.7 269.9,178.1 273.7,177.5 277.4,176.9 281.2,176.4 284.9,175.9 288.7,175.4 292.4,174.9 296.2,174.4 300.0,174.0 303.7,173.5 307.5,173.2 311.2,172.8 315.0,172.4 318.8,172.1 322.5,171.8 326.3,171.5 330.0,171.2 333.8,171.0 337.5,170.8 341.3,170.6 345.1,170.4 348.8,170.2 352.6,170.1 356.3,170.0 360.1,169.9 363.9,169.9 367.6,169.8 371.4,169.8 375.1,169.9 378.9,169.9 382.6,170.0 386.4,170.1 390.2,170.2 393.9,170.4 397.7,170.5 401.4,170.7 405.2,171.0 409.0,171.2 412.7,171.5 416.5,171.8 420.2,172.2 424.0,172.5 427.7,173.0 431.5,173.4 435.3,173.8 439.0,174.3 442.8,174.9 446.5,175.4 450.3,176.0 454.1,176.6 457.8,177.3 461.6,178.0 465.3,178.7 469.1,179.5 472.9,180.3 476.6,181.1 480.4,182.0 484.1,182.9 487.9,183.8 491.6,184.8 495.4,185.8 499.2,186.8" fill="none" stroke="#333" stroke-width="0.9" clip-path="url(#cl)"/>
<path d="M51.9,250.0 55.7,248.0 59.4,246.1 63.2,244.2 66.9,242.3 70.7,240.5 74.5,238.6 78.2,236.8 82.0,235.1 85.7,233.4 89.5,231.7 93.2,230.0 97.0,228.3 100.8,226.7 104.5,225.1 108.3,223.5 112.0,222.0 115.8,220.5 119.6,219.0 123.3,217.5 127.1,216.1 130.8,214.7 134.6,213.3 138.3,211.9 142.1,210.6 145.9,209.3 149.6,208.0 153.4,206.7 157.1,205.4 160.9,204.2 164.7,203.0 168.4,201.8 172.2,200.7 175.9,199.5 179.7,198.4 183.4,197.3 187.2,196.3 191.0,195.2 194.7,194.2 198.5,193.2 202.2,192.2 206.0,191.3 209.8,190.3 213.5,189.4 217.3,188.5 221.0,187.6 224.8,186.8 228.5,185.9 232.3,185.1 236.1,184.3 239.8,183.5 243.6,182.8 247.3,182.0 251.1,181.3 254.9,180.6 258.6,180.0 262.4,179.3 266.1,178.7 269.9,178.1 273.7,177.5 277.4,176.9 281.2,176.4 284.9,175.9 288.7,175.4 292.4,174.9 296.2,174.4 300.0,174.0 303.7,173.5 307.5,173.2 311.2,172.8 315.0,172.4 318.8,172.1 322.5,171.8 326.3,171.5 330.0,171.2 333.8,171.0 337.5,170.8 341.3,170.6 345.1,170.4 348.8,170.2 352.6,170.1 356.3,170.0 360.1,169.9 363.9,169.9 367.6,169.8 371.4,169.8 375.1,169.9 378.9,169.9 382.6,170.0 386.4,170.1 390.2,170.2 393.9,170.4 397.7,170.5 401.4,170.7 405.2,171.0 409.0,171.2 412.7,171.5 416.5,171.8 420.2,172.2 424.0,172.5 427.7,173.0 431.5,173.4 435.3,173.8 439.0,174.3 442.8,174.9 446.5,175.4 450.3,176.0 454.1,176.6 457.8,177.3 461.6,178.0 465.3,178.7 469.1,179.5 472.9,180.3 476.6,181.1 480.4,182.0 484.1,182.9 487.9,183.8 491.6,184.8 495.4,185.8 499.2,186.8" fill="none" stroke="#000" stroke-width="1.15" clip-path="url(#cr)"/>
<path d="M51.9,250.0 55.3,248.0 58.7,246.1 62.0,244.2 65.4,242.3 68.8,240.5 72.2,238.6 75.6,236.8 79.0,235.1 82.3,233.4 85.7,231.7 89.1,230.0 92.5,228.3 95.9,226.7 99.3,225.1 102.6,223.5 106.0,222.0 109.4,220.5 112.8,219.0 116.2,217.5 119.6,216.1 122.9,214.7 126.3,213.3 129.7,211.9 133.1,210.6 136.5,209.3 139.8,208.0 143.2,206.7 146.6,205.4 150.0,204.2 153.4,203.0 156.8,201.8 160.1,200.7 163.5,199.5 166.9,198.4 170.3,197.3 173.7,196.3 177.1,195.2 180.4,194.2 183.8,193.2 187.2,192.2 190.6,191.3 194.0,190.3 197.4,189.4 200.7,188.5 204.1,187.6 207.5,186.8 210.9,185.9 214.3,185.1 217.6,184.3 221.0,183.5 224.4,182.8 227.8,182.0 231.2,181.3 234.6,180.6 237.9,180.0 241.3,179.3 244.7,178.7 248.1,178.1 251.5,177.5 254.9,176.9 258.2,176.4 261.6,175.9 265.0,175.4 268.4,174.9 271.8,174.4 275.2,174.0 278.5,173.5 281.9,173.2 285.3,172.8 288.7,172.4 292.1,172.1 295.4,171.8 298.8,171.5 302.2,171.2 305.6,171.0 309.0,170.8 312.4,170.6 315.7,170.4 319.1,170.2 322.5,170.1 325.9,170.0 329.3,169.9 332.7,169.9 336.0,169.8 339.4,169.8 342.8,169.9 346.2,169.9 349.6,170.0 353.0,170.1 356.3,170.2 359.7,170.4 363.1,170.5 366.5,170.7 369.9,171.0 373.3,171.2 376.6,171.5 380.0,171.8 383.4,172.2 386.8,172.5 390.2,173.0 393.5,173.4 396.9,173.8 400.3,174.3 403.7,174.9 407.1,175.4 410.5,176.0 413.8,176.6 417.2,177.3 420.6,178.0 424.0,178.7 427.4,179.5 430.8,180.3 434.1,181.1 437.5,182.0 440.9,182.9 444.3,183.8 447.7,184.8 451.1,185.8 454.4,186.8" fill="none" stroke="#333" stroke-width="0.9" clip-path="url(#cl)"/>
<path d="M51.9,250.0 55.3,248.0 58.7,246.1 62.0,244.2 65.4,242.3 68.8,240.5 72.2,238.6 75.6,236.8 79.0,235.1 82.3,233.4 85.7,231.7 89.1,230.0 92.5,228.3 95.9,226.7 99.3,225.1 102.6,223.5 106.0,222.0 109.4,220.5 112.8,219.0 116.2,217.5 119.6,216.1 122.9,214.7 126.3,213.3 129.7,211.9 133.1,210.6 136.5,209.3 139.8,208.0 143.2,206.7 146.6,205.4 150.0,204.2 153.4,203.0 156.8,201.8 160.1,200.7 163.5,199.5 166.9,198.4 170.3,197.3 173.7,196.3 177.1,195.2 180.4,194.2 183.8,193.2 187.2,192.2 190.6,191.3 194.0,190.3 197.4,189.4 200.7,188.5 204.1,187.6 207.5,186.8 210.9,185.9 214.3,185.1 217.6,184.3 221.0,183.5 224.4,182.8 227.8,182.0 231.2,181.3 234.6,180.6 237.9,180.0 241.3,179.3 244.7,178.7 248.1,178.1 251.5,177.5 254.9,176.9 258.2,176.4 261.6,175.9 265.0,175.4 268.4,174.9 271.8,174.4 275.2,174.0 278.5,173.5 281.9,173.2 285.3,172.8 288.7,172.4 292.1,172.1 295.4,171.8 298.8,171.5 302.2,171.2 305.6,171.0 309.0,170.8 312.4,170.6 315.7,170.4 319.1,170.2 322.5,170.1 325.9,170.0 329.3,169.9 332.7,169.9 336.0,169.8 339.4,169.8 342.8,169.9 346.2,169.9 349.6,170.0 353.0,170.1 356.3,170.2 359.7,170.4 363.1,170.5 366.5,170.7 369.9,171.0 373.3,171.2 376.6,171.5 380.0,171.8 383.4,172.2 386.8,172.5 390.2,173.0 393.5,173.4 396.9,173.8 400.3,174.3 403.7,174.9 407.1,175.4 410.5,176.0 413.8,176.6 417.2,177.3 420.6,178.0 424.0,178.7 427.4,179.5 430.8,180.3 434.1,181.1 437.5,182.0 440.9,182.9 444.3,183.8 447.7,184.8 451.1,185.8 454.4,186.8" fill="none" stroke="#000" stroke-width="1.15" clip-path="url(#cr)"/>
<path d="M51.9,250.0 54.9,248.0 57.9,246.1 60.9,244.2 63.9,242.3 66.9,240.5 69.9,238.6 72.9,236.8 76.0,235.1 79.0,233.4 82.0,231.7 85.0,230.0 88.0,228.3 91.0,226.7 94.0,225.1 97.0,223.5 100.0,222.0 103.0,220.5 106.0,219.0 109.0,217.5 112.0,216.1 115.0,214.7 118.0,213.3 121.1,211.9 124.1,210.6 127.1,209.3 130.1,208.0 133.1,206.7 136.1,205.4 139.1,204.2 142.1,203.0 145.1,201.8 148.1,200.7 151.1,199.5 154.1,198.4 157.1,197.3 160.1,196.3 163.2,195.2 166.2,194.2 169.2,193.2 172.2,192.2 175.2,191.3 178.2,190.3 181.2,189.4 184.2,188.5 187.2,187.6 190.2,186.8 193.2,185.9 196.2,185.1 199.2,184.3 202.2,183.5 205.2,182.8 208.3,182.0 211.3,181.3 214.3,180.6 217.3,180.0 220.3,179.3 223.3,178.7 226.3,178.1 229.3,177.5 232.3,176.9 235.3,176.4 238.3,175.9 241.3,175.4 244.3,174.9 247.3,174.4 250.3,174.0 253.4,173.5 256.4,173.2 259.4,172.8 262.4,172.4 265.4,172.1 268.4,171.8 271.4,171.5 274.4,171.2 277.4,171.0 280.4,170.8 283.4,170.6 286.4,170.4 289.4,170.2 292.4,170.1 295.4,170.0 298.5,169.9 301.5,169.9 304.5,169.8 307.5,169.8 310.5,169.9 313.5,169.9 316.5,170.0 319.5,170.1 322.5,170.2 325.5,170.4 328.5,170.5 331.5,170.7 334.5,171.0 337.5,171.2 340.6,171.5 343.6,171.8 346.6,172.2 349.6,172.5 352.6,173.0 355.6,173.4 358.6,173.8 361.6,174.3 364.6,174.9 367.6,175.4 370.6,176.0 373.6,176.6 376.6,177.3 379.6,178.0 382.6,178.7 385.7,179.5 388.7,180.3 391.7,181.1 394.7,182.0 397.7,182.9 400.7,183.8 403.7,184.8 406.7,185.8 409.7,186.8" fill="none" stroke="#333" stroke-width="0.9" clip-path="url(#cl)"/>
<path d="M51.9,250.0 54.9,248.0 57.9,246.1 60.9,244.2 63.9,242.3 66.9,240.5 69.9,238.6 72.9,236.8 76.0,235.1 79.0,233.4 82.0,231.7 85.0,230.0 88.0,228.3 91.0,226.7 94.0,225.1 97.0,223.5 100.0,222.0 103.0,220.5 106.0,219.0 109.0,217.5 112.0,216.1 115.0,214.7 118.0,213.3 121.1,211.9 124.1,210.6 127.1,209.3 130.1,208.0 133.1,206.7 136.1,205.4 139.1,204.2 142.1,203.0 145.1,201.8 148.1,200.7 151.1,199.5 154.1,198.4 157.1,197.3 160.1,196.3 163.2,195.2 166.2,194.2 169.2,193.2 172.2,192.2 175.2,191.3 178.2,190.3 181.2,189.4 184.2,188.5 187.2,187.6 190.2,186.8 193.2,185.9 196.2,185.1 199.2,184.3 202.2,183.5 205.2,182.8 208.3,182.0 211.3,181.3 214.3,180.6 217.3,180.0 220.3,179.3 223.3,178.7 226.3,178.1 229.3,177.5 232.3,176.9 235.3,176.4 238.3,175.9 241.3,175.4 244.3,174.9 247.3,174.4 250.3,174.0 253.4,173.5 256.4,173.2 259.4,172.8 262.4,172.4 265.4,172.1 268.4,171.8 271.4,171.5 274.4,171.2 277.4,171.0 280.4,170.8 283.4,170.6 286.4,170.4 289.4,170.2 292.4,170.1 295.4,170.0 298.5,169.9 301.5,169.9 304.5,169.8 307.5,169.8 310.5,169.9 313.5,169.9 316.5,170.0 319.5,170.1 322.5,170.2 325.5,170.4 328.5,170.5 331.5,170.7 334.5,171.0 337.5,171.2 340.6,171.5 343.6,171.8 346.6,172.2 349.6,172.5 352.6,173.0 355.6,173.4 358.6,173.8 361.6,174.3 364.6,174.9 367.6,175.4 370.6,176.0 373.6,176.6 376.6,177.3 379.6,178.0 382.6,178.7 385.7,179.5 388.7,180.3 391.7,181.1 394.7,182.0 397.7,182.9 400.7,183.8 403.7,184.8 406.7,185.8 409.7,186.8" fill="none" stroke="#000" stroke-width="1.15" clip-path="url(#cr)"/>
<path d="M51.9,250.0 54.5,248.0 57.2,246.1 59.8,244.2 62.4,242.3 65.1,240.5 67.7,238.6 70.3,236.8 72.9,235.1 75.6,233.4 78.2,231.7 80.8,230.0 83.5,228.3 86.1,226.7 88.7,225.1 91.4,223.5 94.0,222.0 96.6,220.5 99.3,219.0 101.9,217.5 104.5,216.1 107.1,214.7 109.8,213.3 112.4,211.9 115.0,210.6 117.7,209.3 120.3,208.0 122.9,206.7 125.6,205.4 128.2,204.2 130.8,203.0 133.5,201.8 136.1,200.7 138.7,199.5 141.4,198.4 144.0,197.3 146.6,196.3 149.2,195.2 151.9,194.2 154.5,193.2 157.1,192.2 159.8,191.3 162.4,190.3 165.0,189.4 167.7,188.5 170.3,187.6 172.9,186.8 175.6,185.9 178.2,185.1 180.8,184.3 183.4,183.5 186.1,182.8 188.7,182.0 191.3,181.3 194.0,180.6 196.6,180.0 199.2,179.3 201.9,178.7 204.5,178.1 207.1,177.5 209.8,176.9 212.4,176.4 215.0,175.9 217.6,175.4 220.3,174.9 222.9,174.4 225.5,174.0 228.2,173.5 230.8,173.2 233.4,172.8 236.1,172.4 238.7,172.1 241.3,171.8 244.0,171.5 246.6,171.2 249.2,171.0 251.9,170.8 254.5,170.6 257.1,170.4 259.7,170.2 262.4,170.1 265.0,170.0 267.6,169.9 270.3,169.9 272.9,169.8 275.5,169.8 278.2,169.9 280.8,169.9 283.4,170.0 286.1,170.1 288.7,170.2 291.3,170.4 293.9,170.5 296.6,170.7 299.2,171.0 301.8,171.2 304.5,171.5 307.1,171.8 309.7,172.2 312.4,172.5 315.0,173.0 317.6,173.4 320.3,173.8 322.9,174.3 325.5,174.9 328.1,175.4 330.8,176.0 333.4,176.6 336.0,177.3 338.7,178.0 341.3,178.7 343.9,179.5 346.6,180.3 349.2,181.1 351.8,182.0 354.5,182.9 357.1,183.8 359.7,184.8 362.4,185.8 365.0,186.8" fill="none" stroke="#333" stroke-width="0.9" clip-path="url(#cl)"/>
<path d="M51.9,250.0 54.5,248.0 57.2,246.1 59.8,244.2 62.4,242.3 65.1,240.5 67.7,238.6 70.3,236.8 72.9,235.1 75.6,233.4 78.2,231.7 80.8,230.0 83.5,228.3 86.1,226.7 88.7,225.1 91.4,223.5 94.0,222.0 96.6,220.5 99.3,219.0 101.9,217.5 104.5,216.1 107.1,214.7 109.8,213.3 112.4,211.9 115.0,210.6 117.7,209.3 120.3,208.0 122.9,206.7 125.6,205.4 128.2,204.2 130.8,203.0 133.5,201.8 136.1,200.7 138.7,199.5 141.4,198.4 144.0,197.3 146.6,196.3 149.2,195.2 151.9,194.2 154.5,193.2 157.1,192.2 159.8,191.3 162.4,190.3 165.0,189.4 167.7,188.5 170.3,187.6 172.9,186.8 175.6,185.9 178.2,185.1 180.8,184.3 183.4,183.5 186.1,182.8 188.7,182.0 191.3,181.3 194.0,180.6 196.6,180.0 199.2,179.3 201.9,178.7 204.5,178.1 207.1,177.5 209.8,176.9 212.4,176.4 215.0,175.9 217.6,175.4 220.3,174.9 222.9,174.4 225.5,174.0 228.2,173.5 230.8,173.2 233.4,172.8 236.1,172.4 238.7,172.1 241.3,171.8 244.0,171.5 246.6,171.2 249.2,171.0 251.9,170.8 254.5,170.6 257.1,170.4 259.7,170.2 262.4,170.1 265.0,170.0 267.6,169.9 270.3,169.9 272.9,169.8 275.5,169.8 278.2,169.9 280.8,169.9 283.4,170.0 286.1,170.1 288.7,170.2 291.3,170.4 293.9,170.5 296.6,170.7 299.2,171.0 301.8,171.2 304.5,171.5 307.1,171.8 309.7,172.2 312.4,172.5 315.0,173.0 317.6,173.4 320.3,173.8 322.9,174.3 325.5,174.9 328.1,175.4 330.8,176.0 333.4,176.6 336.0,177.3 338.7,178.0 341.3,178.7 343.9,179.5 346.6,180.3 349.2,181.1 351.8,182.0 354.5,182.9 357.1,183.8 359.7,184.8 362.4,185.8 365.0,186.8" fill="none" stroke="#000" stroke-width="1.15" clip-path="url(#cr)"/>
<path d="M51.9,250.0 54.2,248.0 56.4,246.1 58.7,244.2 60.9,242.3 63.2,240.5 65.4,238.6 67.7,236.8 69.9,235.1 72.2,233.4 74.5,231.7 76.7,230.0 79.0,228.3 81.2,226.7 83.5,225.1 85.7,223.5 88.0,222.0 90.2,220.5 92.5,219.0 94.7,217.5 97.0,216.1 99.3,214.7 101.5,213.3 103.8,211.9 106.0,210.6 108.3,209.3 110.5,208.0 112.8,206.7 115.0,205.4 117.3,204.2 119.6,203.0 121.8,201.8 124.1,200.7 126.3,199.5 128.6,198.4 130.8,197.3 133.1,196.3 135.3,195.2 137.6,194.2 139.8,193.2 142.1,192.2 144.4,191.3 146.6,190.3 148.9,189.4 151.1,188.5 153.4,187.6 155.6,186.8 157.9,185.9 160.1,185.1 162.4,184.3 164.7,183.5 166.9,182.8 169.2,182.0 171.4,181.3 173.7,180.6 175.9,180.0 178.2,179.3 180.4,178.7 182.7,178.1 185.0,177.5 187.2,176.9 189.5,176.4 191.7,175.9 194.0,175.4 196.2,174.9 198.5,174.4 200.7,174.0 203.0,173.5 205.2,173.2 207.5,172.8 209.8,172.4 212.0,172.1 214.3,171.8 216.5,171.5 218.8,171.2 221.0,171.0 223.3,170.8 225.5,170.6 227.8,170.4 230.1,170.2 232.3,170.1 234.6,170.0 236.8,169.9 239.1,169.9 241.3,169.8 243.6,169.8 245.8,169.9 248.1,169.9 250.3,170.0 252.6,170.1 254.9,170.2 257.1,170.4 259.4,170.5 261.6,170.7 263.9,171.0 266.1,171.2 268.4,171.5 270.6,171.8 272.9,172.2 275.2,172.5 277.4,173.0 279.7,173.4 281.9,173.8 284.2,174.3 286.4,174.9 288.7,175.4 290.9,176.0 293.2,176.6 295.4,177.3 297.7,178.0 300.0,178.7 302.2,179.5 304.5,180.3 306.7,181.1 309.0,182.0 311.2,182.9 313.5,183.8 315.7,184.8 318.0,185.8 320.3,186.8" fill="none" stroke="#333" stroke-width="0.9" clip-path="url(#cl)"/>
<path d="M51.9,250.0 54.2,248.0 56.4,246.1 58.7,244.2 60.9,242.3 63.2,240.5 65.4,238.6 67.7,236.8 69.9,235.1 72.2,233.4 74.5,231.7 76.7,230.0 79.0,228.3 81.2,226.7 83.5,225.1 85.7,223.5 88.0,222.0 90.2,220.5 92.5,219.0 94.7,217.5 97.0,216.1 99.3,214.7 101.5,213.3 103.8,211.9 106.0,210.6 108.3,209.3 110.5,208.0 112.8,206.7 115.0,205.4 117.3,204.2 119.6,203.0 121.8,201.8 124.1,200.7 126.3,199.5 128.6,198.4 130.8,197.3 133.1,196.3 135.3,195.2 137.6,194.2 139.8,193.2 142.1,192.2 144.4,191.3 146.6,190.3 148.9,189.4 151.1,188.5 153.4,187.6 155.6,186.8 157.9,185.9 160.1,185.1 162.4,184.3 164.7,183.5 166.9,182.8 169.2,182.0 171.4,181.3 173.7,180.6 175.9,180.0 178.2,179.3 180.4,178.7 182.7,178.1 185.0,177.5 187.2,176.9 189.5,176.4 191.7,175.9 194.0,175.4 196.2,174.9 198.5,174.4 200.7,174.0 203.0,173.5 205.2,173.2 207.5,172.8 209.8,172.4 212.0,172.1 214.3,171.8 216.5,171.5 218.8,171.2 221.0,171.0 223.3,170.8 225.5,170.6 227.8,170.4 230.1,170.2 232.3,170.1 234.6,170.0 236.8,169.9 239.1,169.9 241.3,169.8 243.6,169.8 245.8,169.9 248.1,169.9 250.3,170.0 252.6,170.1 254.9,170.2 257.1,170.4 259.4,170.5 261.6,170.7 263.9,171.0 266.1,171.2 268.4,171.5 270.6,171.8 272.9,172.2 275.2,172.5 277.4,173.0 279.7,173.4 281.9,173.8 284.2,174.3 286.4,174.9 288.7,175.4 290.9,176.0 293.2,176.6 295.4,177.3 297.7,178.0 300.0,178.7 302.2,179.5 304.5,180.3 306.7,181.1 309.0,182.0 311.2,182.9 313.5,183.8 315.7,184.8 318.0,185.8 320.3,186.8" fill="none" stroke="#000" stroke-width="1.15" clip-path="url(#cr)"/>
<path d="M51.9,250.0 53.8,248.0 55.7,246.1 57.5,244.2 59.4,242.3 61.3,240.5 63.2,238.6 65.1,236.8 66.9,235.1 68.8,233.4 70.7,231.7 72.6,230.0 74.5,228.3 76.3,226.7 78.2,225.1 80.1,223.5 82.0,222.0 83.8,220.5 85.7,219.0 87.6,217.5 89.5,216.1 91.4,214.7 93.2,213.3 95.1,211.9 97.0,210.6 98.9,209.3 100.8,208.0 102.6,206.7 104.5,205.4 106.4,204.2 108.3,203.0 110.2,201.8 112.0,200.7 113.9,199.5 115.8,198.4 117.7,197.3 119.6,196.3 121.4,195.2 123.3,194.2 125.2,193.2 127.1,192.2 128.9,191.3 130.8,190.3 132.7,189.4 134.6,188.5 136.5,187.6 138.3,186.8 140.2,185.9 142.1,185.1 144.0,184.3 145.9,183.5 147.7,182.8 149.6,182.0 151.5,181.3 153.4,180.6 155.3,180.0 157.1,179.3 159.0,178.7 160.9,178.1 162.8,177.5 164.7,176.9 166.5,176.4 168.4,175.9 170.3,175.4 172.2,174.9 174.1,174.4 175.9,174.0 177.8,173.5 179.7,173.2 181.6,172.8 183.4,172.4 185.3,172.1 187.2,171.8 189.1,171.5 191.0,171.2 192.8,171.0 194.7,170.8 196.6,170.6 198.5,170.4 200.4,170.2 202.2,170.1 204.1,170.0 206.0,169.9 207.9,169.9 209.8,169.8 211.6,169.8 213.5,169.9 215.4,169.9 217.3,170.0 219.2,170.1 221.0,170.2 222.9,170.4 224.8,170.5 226.7,170.7 228.5,171.0 230.4,171.2 232.3,171.5 234.2,171.8 236.1,172.2 237.9,172.5 239.8,173.0 241.7,173.4 243.6,173.8 245.5,174.3 247.3,174.9 249.2,175.4 251.1,176.0 253.0,176.6 254.9,177.3 256.7,178.0 258.6,178.7 260.5,179.5 262.4,180.3 264.3,181.1 266.1,182.0 268.0,182.9 269.9,183.8 271.8,184.8 273.7,185.8 275.5,186.8" fill="none" stroke="#333" stroke-width="0.9" clip-path="url(#cl)"/>
<path d="M51.9,250.0 53.8,248.0 55.7,246.1 57.5,244.2 59.4,242.3 61.3,240.5 63.2,238.6 65.1,236.8 66.9,235.1 68.8,233.4 70.7,231.7 72.6,230.0 74.5,228.3 76.3,226.7 78.2,225.1 80.1,223.5 82.0,222.0 83.8,220.5 85.7,219.0 87.6,217.5 89.5,216.1 91.4,214.7 93.2,213.3 95.1,211.9 97.0,210.6 98.9,209.3 100.8,208.0 102.6,206.7 104.5,205.4 106.4,204.2 108.3,203.0 110.2,201.8 112.0,200.7 113.9,199.5 115.8,198.4 117.7,197.3 119.6,196.3 121.4,195.2 123.3,194.2 125.2,193.2 127.1,192.2 128.9,191.3 130.8,190.3 132.7,189.4 134.6,188.5 136.5,187.6 138.3,186.8 140.2,185.9 142.1,185.1 144.0,184.3 145.9,183.5 147.7,182.8 149.6,182.0 151.5,181.3 153.4,180.6 155.3,180.0 157.1,179.3 159.0,178.7 160.9,178.1 162.8,177.5 164.7,176.9 166.5,176.4 168.4,175.9 170.3,175.4 172.2,174.9 174.1,174.4 175.9,174.0 177.8,173.5 179.7,173.2 181.6,172.8 183.4,172.4 185.3,172.1 187.2,171.8 189.1,171.5 191.0,171.2 192.8,171.0 194.7,170.8 196.6,170.6 198.5,170.4 200.4,170.2 202.2,170.1 204.1,170.0 206.0,169.9 207.9,169.9 209.8,169.8 211.6,169.8 213.5,169.9 215.4,169.9 217.3,170.0 219.2,170.1 221.0,170.2 222.9,170.4 224.8,170.5 226.7,170.7 228.5,171.0 230.4,171.2 232.3,171.5 234.2,171.8 236.1,172.2 237.9,172.5 239.8,173.0 241.7,173.4 243.6,173.8 245.5,174.3 247.3,174.9 249.2,175.4 251.1,176.0 253.0,176.6 254.9,177.3 256.7,178.0 258.6,178.7 260.5,179.5 262.4,180.3 264.3,181.1 266.1,182.0 268.0,182.9 269.9,183.8 271.8,184.8 273.7,185.8 275.5,186.8" fill="none" stroke="#000" stroke-width="1.15" clip-path="url(#cr)"/>
<path d="M51.9,250.0 53.4,248.0 54.9,246.1 56.4,244.2 57.9,242.3 59.4,240.5 60.9,238.6 62.4,236.8 63.9,235.1 65.4,233.4 66.9,231.7 68.4,230.0 69.9,228.3 71.4,226.7 72.9,225.1 74.5,223.5 76.0,222.0 77.5,220.5 79.0,219.0 80.5,217.5 82.0,216.1 83.5,214.7 85.0,213.3 86.5,211.9 88.0,210.6 89.5,209.3 91.0,208.0 92.5,206.7 94.0,205.4 95.5,204.2 97.0,203.0 98.5,201.8 100.0,200.7 101.5,199.5 103.0,198.4 104.5,197.3 106.0,196.3 107.5,195.2 109.0,194.2 110.5,193.2 112.0,192.2 113.5,191.3 115.0,190.3 116.5,189.4 118.0,188.5 119.6,187.6 121.1,186.8 122.6,185.9 124.1,185.1 125.6,184.3 127.1,183.5 128.6,182.8 130.1,182.0 131.6,181.3 133.1,180.6 134.6,180.0 136.1,179.3 137.6,178.7 139.1,178.1 140.6,177.5 142.1,176.9 143.6,176.4 145.1,175.9 146.6,175.4 148.1,174.9 149.6,174.4 151.1,174.0 152.6,173.5 154.1,173.2 155.6,172.8 157.1,172.4 158.6,172.1 160.1,171.8 161.6,171.5 163.2,171.2 164.7,171.0 166.2,170.8 167.7,170.6 169.2,170.4 170.7,170.2 172.2,170.1 173.7,170.0 175.2,169.9 176.7,169.9 178.2,169.8 179.7,169.8 181.2,169.9 182.7,169.9 184.2,170.0 185.7,170.1 187.2,170.2 188.7,170.4 190.2,170.5 191.7,170.7 193.2,171.0 194.7,171.2 196.2,171.5 197.7,171.8 199.2,172.2 200.7,172.5 202.2,173.0 203.7,173.4 205.2,173.8 206.7,174.3 208.3,174.9 209.8,175.4 211.3,176.0 212.8,176.6 214.3,177.3 215.8,178.0 217.3,178.7 218.8,179.5 220.3,180.3 221.8,181.1 223.3,182.0 224.8,182.9 226.3,183.8 227.8,184.8 229.3,185.8 230.8,186.8" fill="none" stroke="#333" stroke-width="0.9" clip-path="url(#cl)"/>
<path d="M51.9,250.0 53.4,248.0 54.9,246.1 56.4,244.2 57.9,242.3 59.4,240.5 60.9,238.6 62.4,236.8 63.9,235.1 65.4,233.4 66.9,231.7 68.4,230.0 69.9,228.3 71.4,226.7 72.9,225.1 74.5,223.5 76.0,222.0 77.5,220.5 79.0,219.0 80.5,217.5 82.0,216.1 83.5,214.7 85.0,213.3 86.5,211.9 88.0,210.6 89.5,209.3 91.0,208.0 92.5,206.7 94.0,205.4 95.5,204.2 97.0,203.0 98.5,201.8 100.0,200.7 101.5,199.5 103.0,198.4 104.5,197.3 106.0,196.3 107.5,195.2 109.0,194.2 110.5,193.2 112.0,192.2 113.5,191.3 115.0,190.3 116.5,189.4 118.0,188.5 119.6,187.6 121.1,186.8 122.6,185.9 124.1,185.1 125.6,184.3 127.1,183.5 128.6,182.8 130.1,182.0 131.6,181.3 133.1,180.6 134.6,180.0 136.1,179.3 137.6,178.7 139.1,178.1 140.6,177.5 142.1,176.9 143.6,176.4 145.1,175.9 146.6,175.4 148.1,174.9 149.6,174.4 151.1,174.0 152.6,173.5 154.1,173.2 155.6,172.8 157.1,172.4 158.6,172.1 160.1,171.8 161.6,171.5 163.2,171.2 164.7,171.0 166.2,170.8 167.7,170.6 169.2,170.4 170.7,170.2 172.2,170.1 173.7,170.0 175.2,169.9 176.7,169.9 178.2,169.8 179.7,169.8 181.2,169.9 182.7,169.9 184.2,170.0 185.7,170.1 187.2,170.2 188.7,170.4 190.2,170.5 191.7,170.7 193.2,171.0 194.7,171.2 196.2,171.5 197.7,171.8 199.2,172.2 200.7,172.5 202.2,173.0 203.7,173.4 205.2,173.8 206.7,174.3 208.3,174.9 209.8,175.4 211.3,176.0 212.8,176.6 214.3,177.3 215.8,178.0 217.3,178.7 218.8,179.5 220.3,180.3 221.8,181.1 223.3,182.0 224.8,182.9 226.3,183.8 227.8,184.8 229.3,185.8 230.8,186.8" fill="none" stroke="#000" stroke-width="1.15" clip-path="url(#cr)"/>
<path d="M51.9,250.0 53.0,248.0 54.2,246.1 55.3,244.2 56.4,242.3 57.5,240.5 58.7,238.6 59.8,236.8 60.9,235.1 62.0,233.4 63.2,231.7 64.3,230.0 65.4,228.3 66.6,226.7 67.7,225.1 68.8,223.5 69.9,222.0 71.1,220.5 72.2,219.0 73.3,217.5 74.5,216.1 75.6,214.7 76.7,213.3 77.8,211.9 79.0,210.6 80.1,209.3 81.2,208.0 82.3,206.7 83.5,205.4 84.6,204.2 85.7,203.0 86.9,201.8 88.0,200.7 89.1,199.5 90.2,198.4 91.4,197.3 92.5,196.3 93.6,195.2 94.7,194.2 95.9,193.2 97.0,192.2 98.1,191.3 99.3,190.3 100.4,189.4 101.5,188.5 102.6,187.6 103.8,186.8 104.9,185.9 106.0,185.1 107.1,184.3 108.3,183.5 109.4,182.8 110.5,182.0 111.7,181.3 112.8,180.6 113.9,180.0 115.0,179.3 116.2,178.7 117.3,178.1 118.4,177.5 119.6,176.9 120.7,176.4 121.8,175.9 122.9,175.4 124.1,174.9 125.2,174.4 126.3,174.0 127.4,173.5 128.6,173.2 129.7,172.8 130.8,172.4 132.0,172.1 133.1,171.8 134.2,171.5 135.3,171.2 136.5,171.0 137.6,170.8 138.7,170.6 139.8,170.4 141.0,170.2 142.1,170.1 143.2,170.0 144.4,169.9 145.5,169.9 146.6,169.8 147.7,169.8 148.9,169.9 150.0,169.9 151.1,170.0 152.3,170.1 153.4,170.2 154.5,170.4 155.6,170.5 156.8,170.7 157.9,171.0 159.0,171.2 160.1,171.5 161.3,171.8 162.4,172.2 163.5,172.5 164.7,173.0 165.8,173.4 166.9,173.8 168.0,174.3 169.2,174.9 170.3,175.4 171.4,176.0 172.5,176.6 173.7,177.3 174.8,178.0 175.9,178.7 177.1,179.5 178.2,180.3 179.3,181.1 180.4,182.0 181.6,182.9 182.7,183.8 183.8,184.8 185.0,185.8 186.1,186.8" fill="none" stroke="#333" stroke-width="0.9" clip-path="url(#cl)"/>
<path d="M51.9,250.0 53.0,248.0 54.2,246.1 55.3,244.2 56.4,242.3 57.5,240.5 58.7,238.6 59.8,236.8 60.9,235.1 62.0,233.4 63.2,231.7 64.3,230.0 65.4,228.3 66.6,226.7 67.7,225.1 68.8,223.5 69.9,222.0 71.1,220.5 72.2,219.0 73.3,217.5 74.5,216.1 75.6,214.7 76.7,213.3 77.8,211.9 79.0,210.6 80.1,209.3 81.2,208.0 82.3,206.7 83.5,205.4 84.6,204.2 85.7,203.0 86.9,201.8 88.0,200.7 89.1,199.5 90.2,198.4 91.4,197.3 92.5,196.3 93.6,195.2 94.7,194.2 95.9,193.2 97.0,192.2 98.1,191.3 99.3,190.3 100.4,189.4 101.5,188.5 102.6,187.6 103.8,186.8 104.9,185.9 106.0,185.1 107.1,184.3 108.3,183.5 109.4,182.8 110.5,182.0 111.7,181.3 112.8,180.6 113.9,180.0 115.0,179.3 116.2,178.7 117.3,178.1 118.4,177.5 119.6,176.9 120.7,176.4 121.8,175.9 122.9,175.4 124.1,174.9 125.2,174.4 126.3,174.0 127.4,173.5 128.6,173.2 129.7,172.8 130.8,172.4 132.0,172.1 133.1,171.8 134.2,171.5 135.3,171.2 136.5,171.0 137.6,170.8 138.7,170.6 139.8,170.4 141.0,170.2 142.1,170.1 143.2,170.0 144.4,169.9 145.5,169.9 146.6,169.8 147.7,169.8 148.9,169.9 150.0,169.9 151.1,170.0 152.3,170.1 153.4,170.2 154.5,170.4 155.6,170.5 156.8,170.7 157.9,171.0 159.0,171.2 160.1,171.5 161.3,171.8 162.4,172.2 163.5,172.5 164.7,173.0 165.8,173.4 166.9,173.8 168.0,174.3 169.2,174.9 170.3,175.4 171.4,176.0 172.5,176.6 173.7,177.3 174.8,178.0 175.9,178.7 177.1,179.5 178.2,180.3 179.3,181.1 180.4,182.0 181.6,182.9 182.7,183.8 183.8,184.8 185.0,185.8 186.1,186.8" fill="none" stroke="#000" stroke-width="1.15" clip-path="url(#cr)"/>
<path d="M51.9,383.3 57.6,383.1 63.2,383.0 68.9,382.8 74.5,382.7 80.2,382.6 85.9,382.4 91.5,382.3 97.2,382.1 102.9,382.0 108.5,381.8 114.2,381.7 119.8,381.5 125.5,381.4 131.2,381.2 136.8,381.0 142.5,380.8 148.1,380.7 153.8,380.5 159.5,380.3 165.1,380.1 170.8,379.9 176.5,379.7 182.1,379.4 187.8,379.2 193.4,379.0 199.1,378.7 204.8,378.5 210.4,378.2 216.1,377.9 221.7,377.6 227.4,377.3 233.1,377.0 238.7,376.7 244.4,376.3 250.1,376.0 255.7,375.6 261.4,375.2 267.0,374.8 272.7,374.4 278.4,373.9 284.0,373.5 289.7,373.0 295.3,372.5 301.0,372.0 306.7,371.5 312.3,370.9 318.0,370.3 323.7,369.8 329.3,369.2 335.0,368.5 340.6,367.9 346.3,367.2 352.0,366.5 357.6,365.8 363.3,365.0 368.9,364.3 374.6,363.5 380.3,362.7 385.9,361.8 391.6,361.0 397.3,360.1 402.9,359.1 408.6,358.2 414.2,357.2 419.9,356.2 425.6,355.2 431.2,354.1 436.9,353.0 442.5,351.9 448.2,350.7 453.9,349.6 459.5,348.3 465.2,347.1 470.9,345.8 476.5,344.5 482.2,343.2 487.8,341.8 493.5,340.4 499.2,338.9" fill="none" stroke="#000" stroke-width="1.0"/>
<path d="M51.9,384.9 57.0,384.7 62.1,384.6 67.2,384.5 72.3,384.4 77.4,384.3 82.5,384.2 87.6,384.0 92.7,383.9 97.8,383.8 102.9,383.7 107.9,383.6 113.0,383.4 118.1,383.3 123.2,383.2 128.3,383.0 133.4,382.9 138.5,382.7 143.6,382.6 148.7,382.4 153.8,382.3 158.9,382.1 164.0,381.9 169.1,381.8 174.2,381.6 179.3,381.4 184.4,381.2 189.5,381.0 194.6,380.7 199.7,380.5 204.8,380.3 209.9,380.0 215.0,379.8 220.0,379.5 225.1,379.2 230.2,378.9 235.3,378.6 240.4,378.3 245.5,378.0 250.6,377.6 255.7,377.3 260.8,376.9 265.9,376.5 271.0,376.1 276.1,375.7 281.2,375.3 286.3,374.8 291.4,374.4 296.5,373.9 301.6,373.4 306.7,372.9 311.8,372.4 316.9,371.8 322.0,371.3 327.0,370.7 332.1,370.1 337.2,369.5 342.3,368.8 347.4,368.2 352.5,367.5 357.6,366.8 362.7,366.1 367.8,365.3 372.9,364.5 378.0,363.8 383.1,362.9 388.2,362.1 393.3,361.2 398.4,360.4 403.5,359.4 408.6,358.5 413.7,357.5 418.8,356.6 423.9,355.6 429.0,354.5 434.1,353.4 439.1,352.4 444.2,351.2 449.3,350.1 454.4,348.9" fill="none" stroke="#000" stroke-width="1.0"/>
<path d="M51.9,386.3 56.4,386.2 61.0,386.1 65.5,386.0 70.0,385.9 74.5,385.8 79.1,385.7 83.6,385.6 88.1,385.5 92.7,385.4 97.2,385.3 101.7,385.2 106.3,385.1 110.8,385.0 115.3,384.9 119.8,384.8 124.4,384.7 128.9,384.6 133.4,384.5 138.0,384.4 142.5,384.2 147.0,384.1 151.5,384.0 156.1,383.8 160.6,383.7 165.1,383.5 169.7,383.4 174.2,383.2 178.7,383.0 183.2,382.8 187.8,382.7 192.3,382.5 196.8,382.2 201.4,382.0 205.9,381.8 210.4,381.6 215.0,381.3 219.5,381.1 224.0,380.8 228.5,380.6 233.1,380.3 237.6,380.0 242.1,379.7 246.7,379.4 251.2,379.1 255.7,378.7 260.2,378.4 264.8,378.0 269.3,377.6 273.8,377.2 278.4,376.8 282.9,376.4 287.4,376.0 291.9,375.5 296.5,375.1 301.0,374.6 305.5,374.1 310.1,373.6 314.6,373.1 319.1,372.5 323.7,372.0 328.2,371.4 332.7,370.8 337.2,370.2 341.8,369.6 346.3,369.0 350.8,368.3 355.4,367.6 359.9,366.9 364.4,366.2 368.9,365.5 373.5,364.7 378.0,363.9 382.5,363.1 387.1,362.3 391.6,361.5 396.1,360.6 400.6,359.7 405.2,358.8 409.7,357.9" fill="none" stroke="#000" stroke-width="1.0"/>
<path d="M51.9,387.5 55.9,387.4 59.8,387.4 63.8,387.3 67.8,387.2 71.7,387.2 75.7,387.1 79.6,387.0 83.6,387.0 87.6,386.9 91.5,386.8 95.5,386.7 99.5,386.7 103.4,386.6 107.4,386.5 111.3,386.4 115.3,386.3 119.3,386.2 123.2,386.2 127.2,386.1 131.2,386.0 135.1,385.9 139.1,385.8 143.1,385.6 147.0,385.5 151.0,385.4 154.9,385.3 158.9,385.2 162.9,385.0 166.8,384.9 170.8,384.7 174.8,384.6 178.7,384.4 182.7,384.3 186.6,384.1 190.6,383.9 194.6,383.7 198.5,383.6 202.5,383.4 206.5,383.2 210.4,382.9 214.4,382.7 218.3,382.5 222.3,382.2 226.3,382.0 230.2,381.7 234.2,381.5 238.2,381.2 242.1,380.9 246.1,380.6 250.1,380.3 254.0,380.0 258.0,379.6 261.9,379.3 265.9,379.0 269.9,378.6 273.8,378.2 277.8,377.8 281.8,377.4 285.7,377.0 289.7,376.6 293.6,376.1 297.6,375.7 301.6,375.2 305.5,374.8 309.5,374.3 313.5,373.8 317.4,373.2 321.4,372.7 325.4,372.1 329.3,371.6 333.3,371.0 337.2,370.4 341.2,369.8 345.2,369.2 349.1,368.5 353.1,367.9 357.1,367.2 361.0,366.5 365.0,365.8" fill="none" stroke="#000" stroke-width="1.0"/>
<path d="M51.9,388.6 55.3,388.5 58.7,388.5 62.1,388.4 65.5,388.4 68.9,388.3 72.3,388.3 75.7,388.2 79.1,388.2 82.5,388.1 85.9,388.1 89.3,388.0 92.7,388.0 96.1,387.9 99.5,387.9 102.9,387.8 106.3,387.7 109.6,387.7 113.0,387.6 116.4,387.5 119.8,387.5 123.2,387.4 126.6,387.3 130.0,387.2 133.4,387.1 136.8,387.1 140.2,387.0 143.6,386.9 147.0,386.8 150.4,386.7 153.8,386.6 157.2,386.5 160.6,386.3 164.0,386.2 167.4,386.1 170.8,386.0 174.2,385.8 177.6,385.7 181.0,385.5 184.4,385.4 187.8,385.2 191.2,385.1 194.6,384.9 198.0,384.7 201.4,384.5 204.8,384.4 208.2,384.2 211.6,383.9 215.0,383.7 218.3,383.5 221.7,383.3 225.1,383.1 228.5,382.8 231.9,382.6 235.3,382.3 238.7,382.0 242.1,381.8 245.5,381.5 248.9,381.2 252.3,380.9 255.7,380.6 259.1,380.2 262.5,379.9 265.9,379.6 269.3,379.2 272.7,378.9 276.1,378.5 279.5,378.1 282.9,377.7 286.3,377.3 289.7,376.9 293.1,376.5 296.5,376.0 299.9,375.6 303.3,375.1 306.7,374.6 310.1,374.2 313.5,373.7 316.9,373.2 320.3,372.6" fill="none" stroke="#000" stroke-width="1.0"/>
<path d="M51.9,389.5 54.7,389.5 57.6,389.4 60.4,389.4 63.2,389.4 66.1,389.3 68.9,389.3 71.7,389.3 74.5,389.2 77.4,389.2 80.2,389.2 83.0,389.1 85.9,389.1 88.7,389.0 91.5,389.0 94.4,389.0 97.2,388.9 100.0,388.9 102.9,388.8 105.7,388.8 108.5,388.7 111.3,388.7 114.2,388.6 117.0,388.6 119.8,388.5 122.7,388.4 125.5,388.4 128.3,388.3 131.2,388.2 134.0,388.2 136.8,388.1 139.7,388.0 142.5,387.9 145.3,387.9 148.1,387.8 151.0,387.7 153.8,387.6 156.6,387.5 159.5,387.4 162.3,387.3 165.1,387.2 168.0,387.1 170.8,386.9 173.6,386.8 176.5,386.7 179.3,386.6 182.1,386.4 184.9,386.3 187.8,386.1 190.6,386.0 193.4,385.8 196.3,385.7 199.1,385.5 201.9,385.3 204.8,385.1 207.6,385.0 210.4,384.8 213.3,384.6 216.1,384.4 218.9,384.2 221.7,383.9 224.6,383.7 227.4,383.5 230.2,383.2 233.1,383.0 235.9,382.8 238.7,382.5 241.6,382.2 244.4,382.0 247.2,381.7 250.1,381.4 252.9,381.1 255.7,380.8 258.5,380.5 261.4,380.2 264.2,379.8 267.0,379.5 269.9,379.1 272.7,378.8 275.5,378.4" fill="none" stroke="#000" stroke-width="1.0"/>
<path d="M51.9,390.3 54.2,390.2 56.4,390.2 58.7,390.2 61.0,390.2 63.2,390.2 65.5,390.1 67.8,390.1 70.0,390.1 72.3,390.1 74.5,390.0 76.8,390.0 79.1,390.0 81.3,390.0 83.6,389.9 85.9,389.9 88.1,389.9 90.4,389.9 92.7,389.8 94.9,389.8 97.2,389.8 99.5,389.7 101.7,389.7 104.0,389.7 106.3,389.6 108.5,389.6 110.8,389.5 113.0,389.5 115.3,389.5 117.6,389.4 119.8,389.4 122.1,389.3 124.4,389.3 126.6,389.2 128.9,389.2 131.2,389.1 133.4,389.0 135.7,389.0 138.0,388.9 140.2,388.8 142.5,388.8 144.7,388.7 147.0,388.6 149.3,388.5 151.5,388.5 153.8,388.4 156.1,388.3 158.3,388.2 160.6,388.1 162.9,388.0 165.1,387.9 167.4,387.8 169.7,387.7 171.9,387.6 174.2,387.5 176.5,387.4 178.7,387.2 181.0,387.1 183.2,387.0 185.5,386.8 187.8,386.7 190.0,386.6 192.3,386.4 194.6,386.3 196.8,386.1 199.1,385.9 201.4,385.8 203.6,385.6 205.9,385.4 208.2,385.2 210.4,385.1 212.7,384.9 215.0,384.7 217.2,384.5 219.5,384.3 221.7,384.1 224.0,383.8 226.3,383.6 228.5,383.4 230.8,383.2" fill="none" stroke="#000" stroke-width="1.0"/>
<path d="M51.9,390.9 53.6,390.8 55.3,390.8 57.0,390.8 58.7,390.8 60.4,390.8 62.1,390.8 63.8,390.8 65.5,390.7 67.2,390.7 68.9,390.7 70.6,390.7 72.3,390.7 74.0,390.7 75.7,390.7 77.4,390.6 79.1,390.6 80.8,390.6 82.5,390.6 84.2,390.6 85.9,390.6 87.6,390.5 89.3,390.5 91.0,390.5 92.7,390.5 94.4,390.5 96.1,390.4 97.8,390.4 99.5,390.4 101.2,390.4 102.9,390.3 104.6,390.3 106.3,390.3 107.9,390.3 109.6,390.2 111.3,390.2 113.0,390.2 114.7,390.1 116.4,390.1 118.1,390.0 119.8,390.0 121.5,390.0 123.2,389.9 124.9,389.9 126.6,389.8 128.3,389.8 130.0,389.7 131.7,389.7 133.4,389.6 135.1,389.6 136.8,389.5 138.5,389.5 140.2,389.4 141.9,389.3 143.6,389.3 145.3,389.2 147.0,389.1 148.7,389.1 150.4,389.0 152.1,388.9 153.8,388.8 155.5,388.8 157.2,388.7 158.9,388.6 160.6,388.5 162.3,388.4 164.0,388.3 165.7,388.2 167.4,388.1 169.1,388.0 170.8,387.9 172.5,387.8 174.2,387.7 175.9,387.6 177.6,387.5 179.3,387.4 181.0,387.2 182.7,387.1 184.4,387.0 186.1,386.9" fill="none" stroke="#000" stroke-width="1.0"/>
<path d="M51.9,328.8 57.6,328.1 63.2,327.4 68.9,326.6 74.5,325.9 80.2,325.2 85.9,324.4 91.5,323.6 97.2,322.8 102.9,322.0 108.5,321.2 114.2,320.4 119.8,319.6 125.5,318.8 131.2,318.0 136.8,317.2 142.5,316.3 148.1,315.5 153.8,314.7 159.5,313.8 165.1,313.0 170.8,312.2 176.5,311.4 182.1,310.5 187.8,309.7 193.4,308.9 199.1,308.1 204.8,307.3 210.4,306.5 216.1,305.7 221.7,305.0 227.4,304.2 233.1,303.5 238.7,302.7 244.4,302.0 250.1,301.3 255.7,300.6 261.4,299.9 267.0,299.3 272.7,298.6 278.4,298.0 284.0,297.4 289.7,296.9 295.3,296.3 301.0,295.8 306.7,295.3 312.3,294.8 318.0,294.3 323.7,293.9 329.3,293.5 335.0,293.1 340.6,292.8 346.3,292.4 352.0,292.1 357.6,291.9 363.3,291.7 368.9,291.5 374.6,291.3 380.3,291.2 385.9,291.1 391.6,291.1 397.3,291.1 402.9,291.1 408.6,291.2 414.2,291.3 419.9,291.4 425.6,291.6 431.2,291.9 436.9,292.1 442.5,292.5 448.2,292.8 453.9,293.3 459.5,293.7 465.2,294.3 470.9,294.8 476.5,295.4 482.2,296.1 487.8,296.8 493.5,297.6 499.2,298.4" fill="none" stroke="#3d5b85" stroke-width="1.0" clip-path="url(#cl)"/>
<path d="M51.9,328.8 57.6,328.1 63.2,327.4 68.9,326.6 74.5,325.9 80.2,325.2 85.9,324.4 91.5,323.6 97.2,322.8 102.9,322.0 108.5,321.2 114.2,320.4 119.8,319.6 125.5,318.8 131.2,318.0 136.8,317.2 142.5,316.3 148.1,315.5 153.8,314.7 159.5,313.8 165.1,313.0 170.8,312.2 176.5,311.4 182.1,310.5 187.8,309.7 193.4,308.9 199.1,308.1 204.8,307.3 210.4,306.5 216.1,305.7 221.7,305.0 227.4,304.2 233.1,303.5 238.7,302.7 244.4,302.0 250.1,301.3 255.7,300.6 261.4,299.9 267.0,299.3 272.7,298.6 278.4,298.0 284.0,297.4 289.7,296.9 295.3,296.3 301.0,295.8 306.7,295.3 312.3,294.8 318.0,294.3 323.7,293.9 329.3,293.5 335.0,293.1 340.6,292.8 346.3,292.4 352.0,292.1 357.6,291.9 363.3,291.7 368.9,291.5 374.6,291.3 380.3,291.2 385.9,291.1 391.6,291.1 397.3,291.1 402.9,291.1 408.6,291.2 414.2,291.3 419.9,291.4 425.6,291.6 431.2,291.9 436.9,292.1 442.5,292.5 448.2,292.8 453.9,293.3 459.5,293.7 465.2,294.3 470.9,294.8 476.5,295.4 482.2,296.1 487.8,296.8 493.5,297.6 499.2,298.4" fill="none" stroke="#22477a" stroke-width="1.1" clip-path="url(#cr)"/>
<path d="M51.9,345.8 57.0,345.3 62.1,344.8 67.2,344.2 72.3,343.7 77.4,343.2 82.5,342.6 87.6,342.0 92.7,341.5 97.8,340.9 102.9,340.3 107.9,339.7 113.0,339.1 118.1,338.5 123.2,337.9 128.3,337.3 133.4,336.7 138.5,336.1 143.6,335.5 148.7,334.9 153.8,334.3 158.9,333.7 164.0,333.1 169.1,332.5 174.2,331.9 179.3,331.3 184.4,330.7 189.5,330.1 194.6,329.6 199.7,329.0 204.8,328.4 209.9,327.9 215.0,327.3 220.0,326.8 225.1,326.3 230.2,325.8 235.3,325.3 240.4,324.8 245.5,324.3 250.6,323.8 255.7,323.4 260.8,323.0 265.9,322.5 271.0,322.1 276.1,321.7 281.2,321.4 286.3,321.0 291.4,320.7 296.5,320.4 301.6,320.1 306.7,319.8 311.8,319.5 316.9,319.3 322.0,319.1 327.0,318.9 332.1,318.7 337.2,318.6 342.3,318.5 347.4,318.4 352.5,318.3 357.6,318.3 362.7,318.3 367.8,318.3 372.9,318.4 378.0,318.5 383.1,318.6 388.2,318.7 393.3,318.9 398.4,319.1 403.5,319.3 408.6,319.6 413.7,319.9 418.8,320.3 423.9,320.6 429.0,321.0 434.1,321.5 439.1,322.0 444.2,322.5 449.3,323.1 454.4,323.7" fill="none" stroke="#3d5b85" stroke-width="1.0" clip-path="url(#cl)"/>
<path d="M51.9,345.8 57.0,345.3 62.1,344.8 67.2,344.2 72.3,343.7 77.4,343.2 82.5,342.6 87.6,342.0 92.7,341.5 97.8,340.9 102.9,340.3 107.9,339.7 113.0,339.1 118.1,338.5 123.2,337.9 128.3,337.3 133.4,336.7 138.5,336.1 143.6,335.5 148.7,334.9 153.8,334.3 158.9,333.7 164.0,333.1 169.1,332.5 174.2,331.9 179.3,331.3 184.4,330.7 189.5,330.1 194.6,329.6 199.7,329.0 204.8,328.4 209.9,327.9 215.0,327.3 220.0,326.8 225.1,326.3 230.2,325.8 235.3,325.3 240.4,324.8 245.5,324.3 250.6,323.8 255.7,323.4 260.8,323.0 265.9,322.5 271.0,322.1 276.1,321.7 281.2,321.4 286.3,321.0 291.4,320.7 296.5,320.4 301.6,320.1 306.7,319.8 311.8,319.5 316.9,319.3 322.0,319.1 327.0,318.9 332.1,318.7 337.2,318.6 342.3,318.5 347.4,318.4 352.5,318.3 357.6,318.3 362.7,318.3 367.8,318.3 372.9,318.4 378.0,318.5 383.1,318.6 388.2,318.7 393.3,318.9 398.4,319.1 403.5,319.3 408.6,319.6 413.7,319.9 418.8,320.3 423.9,320.6 429.0,321.0 434.1,321.5 439.1,322.0 444.2,322.5 449.3,323.1 454.4,323.7" fill="none" stroke="#22477a" stroke-width="1.1" clip-path="url(#cr)"/>
<path d="M51.9,359.4 56.4,359.1 61.0,358.7 65.5,358.3 70.0,358.0 74.5,357.6 79.1,357.2 83.6,356.8 88.1,356.4 92.7,356.0 97.2,355.6 101.7,355.2 106.3,354.7 110.8,354.3 115.3,353.9 119.8,353.5 124.4,353.1 128.9,352.6 133.4,352.2 138.0,351.8 142.5,351.4 147.0,350.9 151.5,350.5 156.1,350.1 160.6,349.7 165.1,349.3 169.7,348.8 174.2,348.4 178.7,348.0 183.2,347.6 187.8,347.2 192.3,346.9 196.8,346.5 201.4,346.1 205.9,345.7 210.4,345.4 215.0,345.0 219.5,344.7 224.0,344.3 228.5,344.0 233.1,343.7 237.6,343.4 242.1,343.1 246.7,342.8 251.2,342.5 255.7,342.3 260.2,342.0 264.8,341.8 269.3,341.6 273.8,341.4 278.4,341.2 282.9,341.0 287.4,340.8 291.9,340.7 296.5,340.5 301.0,340.4 305.5,340.3 310.1,340.3 314.6,340.2 319.1,340.2 323.7,340.1 328.2,340.1 332.7,340.1 337.2,340.2 341.8,340.2 346.3,340.3 350.8,340.4 355.4,340.5 359.9,340.7 364.4,340.8 368.9,341.0 373.5,341.3 378.0,341.5 382.5,341.8 387.1,342.0 391.6,342.4 396.1,342.7 400.6,343.1 405.2,343.5 409.7,343.9" fill="none" stroke="#3d5b85" stroke-width="1.0" clip-path="url(#cl)"/>
<path d="M51.9,359.4 56.4,359.1 61.0,358.7 65.5,358.3 70.0,358.0 74.5,357.6 79.1,357.2 83.6,356.8 88.1,356.4 92.7,356.0 97.2,355.6 101.7,355.2 106.3,354.7 110.8,354.3 115.3,353.9 119.8,353.5 124.4,353.1 128.9,352.6 133.4,352.2 138.0,351.8 142.5,351.4 147.0,350.9 151.5,350.5 156.1,350.1 160.6,349.7 165.1,349.3 169.7,348.8 174.2,348.4 178.7,348.0 183.2,347.6 187.8,347.2 192.3,346.9 196.8,346.5 201.4,346.1 205.9,345.7 210.4,345.4 215.0,345.0 219.5,344.7 224.0,344.3 228.5,344.0 233.1,343.7 237.6,343.4 242.1,343.1 246.7,342.8 251.2,342.5 255.7,342.3 260.2,342.0 264.8,341.8 269.3,341.6 273.8,341.4 278.4,341.2 282.9,341.0 287.4,340.8 291.9,340.7 296.5,340.5 301.0,340.4 305.5,340.3 310.1,340.3 314.6,340.2 319.1,340.2 323.7,340.1 328.2,340.1 332.7,340.1 337.2,340.2 341.8,340.2 346.3,340.3 350.8,340.4 355.4,340.5 359.9,340.7 364.4,340.8 368.9,341.0 373.5,341.3 378.0,341.5 382.5,341.8 387.1,342.0 391.6,342.4 396.1,342.7 400.6,343.1 405.2,343.5 409.7,343.9" fill="none" stroke="#22477a" stroke-width="1.1" clip-path="url(#cr)"/>
<path d="M51.9,370.1 55.9,369.8 59.8,369.6 63.8,369.3 67.8,369.1 71.7,368.8 75.7,368.5 79.6,368.3 83.6,368.0 87.6,367.7 91.5,367.5 95.5,367.2 99.5,366.9 103.4,366.6 107.4,366.3 111.3,366.1 115.3,365.8 119.3,365.5 123.2,365.2 127.2,364.9 131.2,364.6 135.1,364.4 139.1,364.1 143.1,363.8 147.0,363.5 151.0,363.2 154.9,363.0 158.9,362.7 162.9,362.4 166.8,362.1 170.8,361.9 174.8,361.6 178.7,361.4 182.7,361.1 186.6,360.9 190.6,360.6 194.6,360.4 198.5,360.2 202.5,359.9 206.5,359.7 210.4,359.5 214.4,359.3 218.3,359.1 222.3,358.9 226.3,358.7 230.2,358.6 234.2,358.4 238.2,358.2 242.1,358.1 246.1,357.9 250.1,357.8 254.0,357.7 258.0,357.6 261.9,357.5 265.9,357.4 269.9,357.3 273.8,357.3 277.8,357.2 281.8,357.2 285.7,357.1 289.7,357.1 293.6,357.1 297.6,357.1 301.6,357.2 305.5,357.2 309.5,357.2 313.5,357.3 317.4,357.4 321.4,357.5 325.4,357.6 329.3,357.7 333.3,357.9 337.2,358.0 341.2,358.2 345.2,358.4 349.1,358.6 353.1,358.8 357.1,359.1 361.0,359.4 365.0,359.6" fill="none" stroke="#3d5b85" stroke-width="1.0" clip-path="url(#cl)"/>
<path d="M51.9,370.1 55.9,369.8 59.8,369.6 63.8,369.3 67.8,369.1 71.7,368.8 75.7,368.5 79.6,368.3 83.6,368.0 87.6,367.7 91.5,367.5 95.5,367.2 99.5,366.9 103.4,366.6 107.4,366.3 111.3,366.1 115.3,365.8 119.3,365.5 123.2,365.2 127.2,364.9 131.2,364.6 135.1,364.4 139.1,364.1 143.1,363.8 147.0,363.5 151.0,363.2 154.9,363.0 158.9,362.7 162.9,362.4 166.8,362.1 170.8,361.9 174.8,361.6 178.7,361.4 182.7,361.1 186.6,360.9 190.6,360.6 194.6,360.4 198.5,360.2 202.5,359.9 206.5,359.7 210.4,359.5 214.4,359.3 218.3,359.1 222.3,358.9 226.3,358.7 230.2,358.6 234.2,358.4 238.2,358.2 242.1,358.1 246.1,357.9 250.1,357.8 254.0,357.7 258.0,357.6 261.9,357.5 265.9,357.4 269.9,357.3 273.8,357.3 277.8,357.2 281.8,357.2 285.7,357.1 289.7,357.1 293.6,357.1 297.6,357.1 301.6,357.2 305.5,357.2 309.5,357.2 313.5,357.3 317.4,357.4 321.4,357.5 325.4,357.6 329.3,357.7 333.3,357.9 337.2,358.0 341.2,358.2 345.2,358.4 349.1,358.6 353.1,358.8 357.1,359.1 361.0,359.4 365.0,359.6" fill="none" stroke="#22477a" stroke-width="1.1" clip-path="url(#cr)"/>
<path d="M51.9,378.0 55.3,377.9 58.7,377.7 62.1,377.6 65.5,377.4 68.9,377.2 72.3,377.1 75.7,376.9 79.1,376.7 82.5,376.6 85.9,376.4 89.3,376.2 92.7,376.1 96.1,375.9 99.5,375.7 102.9,375.5 106.3,375.3 109.6,375.2 113.0,375.0 116.4,374.8 119.8,374.6 123.2,374.4 126.6,374.3 130.0,374.1 133.4,373.9 136.8,373.7 140.2,373.6 143.6,373.4 147.0,373.2 150.4,373.1 153.8,372.9 157.2,372.7 160.6,372.6 164.0,372.4 167.4,372.2 170.8,372.1 174.2,371.9 177.6,371.8 181.0,371.7 184.4,371.5 187.8,371.4 191.2,371.3 194.6,371.1 198.0,371.0 201.4,370.9 204.8,370.8 208.2,370.7 211.6,370.6 215.0,370.5 218.3,370.4 221.7,370.3 225.1,370.2 228.5,370.2 231.9,370.1 235.3,370.1 238.7,370.0 242.1,370.0 245.5,369.9 248.9,369.9 252.3,369.9 255.7,369.9 259.1,369.9 262.5,369.9 265.9,369.9 269.3,369.9 272.7,370.0 276.1,370.0 279.5,370.1 282.9,370.1 286.3,370.2 289.7,370.3 293.1,370.4 296.5,370.5 299.9,370.6 303.3,370.7 306.7,370.8 310.1,371.0 313.5,371.1 316.9,371.3 320.3,371.5" fill="none" stroke="#3d5b85" stroke-width="1.0" clip-path="url(#cl)"/>
<path d="M51.9,378.0 55.3,377.9 58.7,377.7 62.1,377.6 65.5,377.4 68.9,377.2 72.3,377.1 75.7,376.9 79.1,376.7 82.5,376.6 85.9,376.4 89.3,376.2 92.7,376.1 96.1,375.9 99.5,375.7 102.9,375.5 106.3,375.3 109.6,375.2 113.0,375.0 116.4,374.8 119.8,374.6 123.2,374.4 126.6,374.3 130.0,374.1 133.4,373.9 136.8,373.7 140.2,373.6 143.6,373.4 147.0,373.2 150.4,373.1 153.8,372.9 157.2,372.7 160.6,372.6 164.0,372.4 167.4,372.2 170.8,372.1 174.2,371.9 177.6,371.8 181.0,371.7 184.4,371.5 187.8,371.4 191.2,371.3 194.6,371.1 198.0,371.0 201.4,370.9 204.8,370.8 208.2,370.7 211.6,370.6 215.0,370.5 218.3,370.4 221.7,370.3 225.1,370.2 228.5,370.2 231.9,370.1 235.3,370.1 238.7,370.0 242.1,370.0 245.5,369.9 248.9,369.9 252.3,369.9 255.7,369.9 259.1,369.9 262.5,369.9 265.9,369.9 269.3,369.9 272.7,370.0 276.1,370.0 279.5,370.1 282.9,370.1 286.3,370.2 289.7,370.3 293.1,370.4 296.5,370.5 299.9,370.6 303.3,370.7 306.7,370.8 310.1,371.0 313.5,371.1 316.9,371.3 320.3,371.5" fill="none" stroke="#22477a" stroke-width="1.1" clip-path="url(#cr)"/>
<path d="M51.9,383.7 54.7,383.7 57.6,383.6 60.4,383.5 63.2,383.4 66.1,383.3 68.9,383.2 71.7,383.1 74.5,383.0 77.4,382.9 80.2,382.8 83.0,382.7 85.9,382.6 88.7,382.5 91.5,382.4 94.4,382.3 97.2,382.2 100.0,382.1 102.9,382.0 105.7,381.9 108.5,381.8 111.3,381.7 114.2,381.6 117.0,381.5 119.8,381.4 122.7,381.3 125.5,381.2 128.3,381.1 131.2,381.0 134.0,380.9 136.8,380.8 139.7,380.7 142.5,380.6 145.3,380.5 148.1,380.4 151.0,380.3 153.8,380.2 156.6,380.1 159.5,380.1 162.3,380.0 165.1,379.9 168.0,379.8 170.8,379.8 173.6,379.7 176.5,379.6 179.3,379.6 182.1,379.5 184.9,379.4 187.8,379.4 190.6,379.3 193.4,379.3 196.3,379.2 199.1,379.2 201.9,379.2 204.8,379.1 207.6,379.1 210.4,379.1 213.3,379.1 216.1,379.1 218.9,379.0 221.7,379.0 224.6,379.0 227.4,379.0 230.2,379.0 233.1,379.1 235.9,379.1 238.7,379.1 241.6,379.1 244.4,379.2 247.2,379.2 250.1,379.3 252.9,379.3 255.7,379.4 258.5,379.4 261.4,379.5 264.2,379.6 267.0,379.7 269.9,379.8 272.7,379.9 275.5,380.0" fill="none" stroke="#3d5b85" stroke-width="1.0" clip-path="url(#cl)"/>
<path d="M51.9,383.7 54.7,383.7 57.6,383.6 60.4,383.5 63.2,383.4 66.1,383.3 68.9,383.2 71.7,383.1 74.5,383.0 77.4,382.9 80.2,382.8 83.0,382.7 85.9,382.6 88.7,382.5 91.5,382.4 94.4,382.3 97.2,382.2 100.0,382.1 102.9,382.0 105.7,381.9 108.5,381.8 111.3,381.7 114.2,381.6 117.0,381.5 119.8,381.4 122.7,381.3 125.5,381.2 128.3,381.1 131.2,381.0 134.0,380.9 136.8,380.8 139.7,380.7 142.5,380.6 145.3,380.5 148.1,380.4 151.0,380.3 153.8,380.2 156.6,380.1 159.5,380.1 162.3,380.0 165.1,379.9 168.0,379.8 170.8,379.8 173.6,379.7 176.5,379.6 179.3,379.6 182.1,379.5 184.9,379.4 187.8,379.4 190.6,379.3 193.4,379.3 196.3,379.2 199.1,379.2 201.9,379.2 204.8,379.1 207.6,379.1 210.4,379.1 213.3,379.1 216.1,379.1 218.9,379.0 221.7,379.0 224.6,379.0 227.4,379.0 230.2,379.0 233.1,379.1 235.9,379.1 238.7,379.1 241.6,379.1 244.4,379.2 247.2,379.2 250.1,379.3 252.9,379.3 255.7,379.4 258.5,379.4 261.4,379.5 264.2,379.6 267.0,379.7 269.9,379.8 272.7,379.9 275.5,380.0" fill="none" stroke="#22477a" stroke-width="1.1" clip-path="url(#cr)"/>
<path d="M51.9,387.6 54.2,387.5 56.4,387.5 58.7,387.4 61.0,387.4 63.2,387.3 65.5,387.3 67.8,387.2 70.0,387.2 72.3,387.1 74.5,387.1 76.8,387.0 79.1,387.0 81.3,386.9 83.6,386.9 85.9,386.8 88.1,386.8 90.4,386.7 92.7,386.7 94.9,386.6 97.2,386.6 99.5,386.5 101.7,386.5 104.0,386.4 106.3,386.4 108.5,386.3 110.8,386.3 113.0,386.2 115.3,386.2 117.6,386.1 119.8,386.1 122.1,386.0 124.4,386.0 126.6,385.9 128.9,385.9 131.2,385.8 133.4,385.8 135.7,385.7 138.0,385.7 140.2,385.7 142.5,385.6 144.7,385.6 147.0,385.5 149.3,385.5 151.5,385.5 153.8,385.4 156.1,385.4 158.3,385.4 160.6,385.3 162.9,385.3 165.1,385.3 167.4,385.3 169.7,385.3 171.9,385.2 174.2,385.2 176.5,385.2 178.7,385.2 181.0,385.2 183.2,385.2 185.5,385.2 187.8,385.2 190.0,385.2 192.3,385.2 194.6,385.2 196.8,385.2 199.1,385.2 201.4,385.2 203.6,385.2 205.9,385.2 208.2,385.3 210.4,385.3 212.7,385.3 215.0,385.3 217.2,385.4 219.5,385.4 221.7,385.4 224.0,385.5 226.3,385.5 228.5,385.6 230.8,385.6" fill="none" stroke="#3d5b85" stroke-width="1.0" clip-path="url(#cl)"/>
<path d="M51.9,387.6 54.2,387.5 56.4,387.5 58.7,387.4 61.0,387.4 63.2,387.3 65.5,387.3 67.8,387.2 70.0,387.2 72.3,387.1 74.5,387.1 76.8,387.0 79.1,387.0 81.3,386.9 83.6,386.9 85.9,386.8 88.1,386.8 90.4,386.7 92.7,386.7 94.9,386.6 97.2,386.6 99.5,386.5 101.7,386.5 104.0,386.4 106.3,386.4 108.5,386.3 110.8,386.3 113.0,386.2 115.3,386.2 117.6,386.1 119.8,386.1 122.1,386.0 124.4,386.0 126.6,385.9 128.9,385.9 131.2,385.8 133.4,385.8 135.7,385.7 138.0,385.7 140.2,385.7 142.5,385.6 144.7,385.6 147.0,385.5 149.3,385.5 151.5,385.5 153.8,385.4 156.1,385.4 158.3,385.4 160.6,385.3 162.9,385.3 165.1,385.3 167.4,385.3 169.7,385.3 171.9,385.2 174.2,385.2 176.5,385.2 178.7,385.2 181.0,385.2 183.2,385.2 185.5,385.2 187.8,385.2 190.0,385.2 192.3,385.2 194.6,385.2 196.8,385.2 199.1,385.2 201.4,385.2 203.6,385.2 205.9,385.2 208.2,385.3 210.4,385.3 212.7,385.3 215.0,385.3 217.2,385.4 219.5,385.4 221.7,385.4 224.0,385.5 226.3,385.5 228.5,385.6 230.8,385.6" fill="none" stroke="#22477a" stroke-width="1.1" clip-path="url(#cr)"/>
<path d="M51.9,389.9 53.6,389.9 55.3,389.9 57.0,389.8 58.7,389.8 60.4,389.8 62.1,389.8 63.8,389.8 65.5,389.7 67.2,389.7 68.9,389.7 70.6,389.7 72.3,389.7 74.0,389.6 75.7,389.6 77.4,389.6 79.1,389.6 80.8,389.5 82.5,389.5 84.2,389.5 85.9,389.5 87.6,389.5 89.3,389.4 91.0,389.4 92.7,389.4 94.4,389.4 96.1,389.3 97.8,389.3 99.5,389.3 101.2,389.3 102.9,389.3 104.6,389.2 106.3,389.2 107.9,389.2 109.6,389.2 111.3,389.2 113.0,389.1 114.7,389.1 116.4,389.1 118.1,389.1 119.8,389.1 121.5,389.1 123.2,389.0 124.9,389.0 126.6,389.0 128.3,389.0 130.0,389.0 131.7,389.0 133.4,389.0 135.1,389.0 136.8,388.9 138.5,388.9 140.2,388.9 141.9,388.9 143.6,388.9 145.3,388.9 147.0,388.9 148.7,388.9 150.4,388.9 152.1,388.9 153.8,388.9 155.5,388.9 157.2,388.9 158.9,388.9 160.6,388.9 162.3,388.9 164.0,388.9 165.7,388.9 167.4,388.9 169.1,388.9 170.8,388.9 172.5,388.9 174.2,389.0 175.9,389.0 177.6,389.0 179.3,389.0 181.0,389.0 182.7,389.0 184.4,389.1 186.1,389.1" fill="none" stroke="#3d5b85" stroke-width="1.0" clip-path="url(#cl)"/>
<path d="M51.9,389.9 53.6,389.9 55.3,389.9 57.0,389.8 58.7,389.8 60.4,389.8 62.1,389.8 63.8,389.8 65.5,389.7 67.2,389.7 68.9,389.7 70.6,389.7 72.3,389.7 74.0,389.6 75.7,389.6 77.4,389.6 79.1,389.6 80.8,389.5 82.5,389.5 84.2,389.5 85.9,389.5 87.6,389.5 89.3,389.4 91.0,389.4 92.7,389.4 94.4,389.4 96.1,389.3 97.8,389.3 99.5,389.3 101.2,389.3 102.9,389.3 104.6,389.2 106.3,389.2 107.9,389.2 109.6,389.2 111.3,389.2 113.0,389.1 114.7,389.1 116.4,389.1 118.1,389.1 119.8,389.1 121.5,389.1 123.2,389.0 124.9,389.0 126.6,389.0 128.3,389.0 130.0,389.0 131.7,389.0 133.4,389.0 135.1,389.0 136.8,388.9 138.5,388.9 140.2,388.9 141.9,388.9 143.6,388.9 145.3,388.9 147.0,388.9 148.7,388.9 150.4,388.9 152.1,388.9 153.8,388.9 155.5,388.9 157.2,388.9 158.9,388.9 160.6,388.9 162.3,388.9 164.0,388.9 165.7,388.9 167.4,388.9 169.1,388.9 170.8,388.9 172.5,388.9 174.2,389.0 175.9,389.0 177.6,389.0 179.3,389.0 181.0,389.0 182.7,389.0 184.4,389.1 186.1,389.1" fill="none" stroke="#22477a" stroke-width="1.1" clip-path="url(#cr)"/>
<line x1="52" y1="0" x2="52" y2="251.0" stroke="#808080" stroke-width="2"/>
<line x1="52" y1="0.5" x2="544" y2="0.5" stroke="#a8a8a8" stroke-width="1"/>
<line x1="543.6" y1="0" x2="543.6" y2="251.0" stroke="#808080" stroke-width="1.6"/>
<line x1="51" y1="250.0" x2="544" y2="250.0" stroke="#808080" stroke-width="2"/>
<line x1="52" y1="268" x2="52" y2="392.6" stroke="#808080" stroke-width="2"/>
<line x1="52" y1="268.6" x2="544" y2="268.6" stroke="#808080" stroke-width="1.5"/>
<line x1="543.6" y1="268" x2="543.6" y2="392.6" stroke="#808080" stroke-width="1.6"/>
<line x1="51" y1="391.6" x2="544" y2="391.6" stroke="#808080" stroke-width="2"/>
<line x1="48" y1="250.00" x2="51" y2="250.00" stroke="#555" stroke-width="1"/>
<line x1="48" y1="222.19" x2="51" y2="222.19" stroke="#555" stroke-width="1"/>
<line x1="48" y1="194.38" x2="51" y2="194.38" stroke="#555" stroke-width="1"/>
<line x1="48" y1="166.57" x2="51" y2="166.57" stroke="#555" stroke-width="1"/>
<line x1="48" y1="138.76" x2="51" y2="138.76" stroke="#555" stroke-width="1"/>
<line x1="48" y1="110.95" x2="51" y2="110.95" stroke="#555" stroke-width="1"/>
<line x1="48" y1="83.14" x2="51" y2="83.14" stroke="#555" stroke-width="1"/>
<line x1="48" y1="55.33" x2="51" y2="55.33" stroke="#555" stroke-width="1"/>
<line x1="48" y1="27.52" x2="51" y2="27.52" stroke="#555" stroke-width="1"/>
<line x1="544.5" y1="250.00" x2="548" y2="250.00" stroke="#555" stroke-width="1"/>
<line x1="544.5" y1="222.19" x2="548" y2="222.19" stroke="#555" stroke-width="1"/>
<line x1="544.5" y1="194.38" x2="548" y2="194.38" stroke="#555" stroke-width="1"/>
<line x1="544.5" y1="166.57" x2="548" y2="166.57" stroke="#555" stroke-width="1"/>
<line x1="544.5" y1="138.76" x2="548" y2="138.76" stroke="#555" stroke-width="1"/>
<line x1="544.5" y1="110.95" x2="548" y2="110.95" stroke="#555" stroke-width="1"/>
<line x1="51.90" y1="251.0" x2="51.90" y2="254.0" stroke="#555" stroke-width="1"/>
<line x1="102.72" y1="251.0" x2="102.72" y2="254.0" stroke="#555" stroke-width="1"/>
<line x1="153.55" y1="251.0" x2="153.55" y2="254.0" stroke="#555" stroke-width="1"/>
<line x1="204.38" y1="251.0" x2="204.38" y2="254.0" stroke="#555" stroke-width="1"/>
<line x1="255.20" y1="251.0" x2="255.20" y2="254.0" stroke="#555" stroke-width="1"/>
<line x1="306.02" y1="251.0" x2="306.02" y2="254.0" stroke="#555" stroke-width="1"/>
<line x1="356.85" y1="251.0" x2="356.85" y2="254.0" stroke="#555" stroke-width="1"/>
<line x1="407.68" y1="251.0" x2="407.68" y2="254.0" stroke="#555" stroke-width="1"/>
<line x1="458.50" y1="251.0" x2="458.50" y2="254.0" stroke="#555" stroke-width="1"/>
<line x1="509.32" y1="251.0" x2="509.32" y2="254.0" stroke="#555" stroke-width="1"/>
<line x1="48" y1="391.60" x2="51" y2="391.60" stroke="#555" stroke-width="1"/>
<line x1="544.5" y1="391.60" x2="548" y2="391.60" stroke="#555" stroke-width="1"/>
<line x1="48" y1="360.80" x2="51" y2="360.80" stroke="#555" stroke-width="1"/>
<line x1="544.5" y1="360.80" x2="548" y2="360.80" stroke="#555" stroke-width="1"/>
<line x1="48" y1="330.00" x2="51" y2="330.00" stroke="#555" stroke-width="1"/>
<line x1="544.5" y1="330.00" x2="548" y2="330.00" stroke="#555" stroke-width="1"/>
<line x1="48" y1="299.20" x2="51" y2="299.20" stroke="#555" stroke-width="1"/>
<line x1="544.5" y1="299.20" x2="548" y2="299.20" stroke="#555" stroke-width="1"/>
<rect x="485.5" y="-1" width="58" height="17" fill="#fff" stroke="#444" stroke-width="1"/>
<text transform="translate(38.50,253.80) scale(1,1)">0</text>
<text transform="translate(33.40,225.90) scale(1,1)">20</text>
<text transform="translate(33.40,198.00) scale(1,1)">40</text>
<text transform="translate(33.40,170.10) scale(1,1)">60</text>
<text transform="translate(33.40,142.20) scale(1,1)">80</text>
<text transform="translate(27.40,114.30) scale(1,1)">100</text>
<text transform="translate(27.40,86.40) scale(1,1)">120</text>
<text transform="translate(27.40,59.50) scale(1,1)">140</text>
<text transform="translate(551.50,253.80) scale(1,1)">0</text>
<text transform="translate(551.00,225.90) scale(1,1)">20</text>
<text transform="translate(551.50,198.00) scale(1,1)">40</text>
<text transform="translate(551.00,170.10) scale(1,1)">60</text>
<text transform="translate(551.00,142.20) scale(1,1)">80</text>
<text transform="translate(551.20,114.30) scale(1,1)">100</text>
<text transform="translate(49.25,263.80) scale(1,1)">0</text>
<text transform="translate(95.62,263.30) scale(1,1)">0,5</text>
<text transform="translate(146.25,263.80) scale(1,1)">1,0</text>
<text transform="translate(196.88,263.80) scale(1,1)">1,5</text>
<text transform="translate(247.50,263.30) scale(1,1)">2,0</text>
<text transform="translate(298.62,263.80) scale(1,1)">2,5</text>
<text transform="translate(349.25,262.80) scale(1,1)">3,0</text>
<text transform="translate(400.38,263.30) scale(1,1)">3,5</text>
<text transform="translate(451.50,263.30) scale(1,1)">4,0</text>
<text transform="translate(502.90,263.70) scale(1,1)">Q [м³/ч]</text>
<text transform="translate(30.20,395.20) scale(1,1)">0.0</text>
<text transform="translate(30.20,364.20) scale(1,1)">0.5</text>
<text transform="translate(30.20,333.20) scale(1,1)">1.0</text>
<text transform="translate(30.20,302.20) scale(1,1)">1.5</text>
<text transform="translate(552.00,395.20) scale(1,1)">0</text>
<text transform="translate(552.50,364.20) scale(1,1)">5</text>
<text transform="translate(551.10,333.20) scale(1,1)">10</text>
<text transform="translate(551.10,302.20) scale(1,1)">15</text>
<text transform="translate(24.40,8.60) scale(1,1)">H</text>
<text transform="translate(21.40,20.10) scale(1,1)">[м]</text>
<text transform="translate(559.90,8.50) scale(1,1)">eta</text>
<text transform="translate(559.40,20.70) scale(1,1)">[%]</text>
<text transform="translate(18.40,276.60) scale(1,1)">P2</text>
<text transform="translate(13.90,288.10) scale(1,1)">[кВт]</text>
<text transform="translate(557.40,276.60) scale(1,1)">NPSH</text>
<text transform="translate(563.90,288.10) scale(1,1)">[м]</text>
<text transform="translate(488.30,10.60) scale(1,1)">SQE 3-105</text>
<text transform="translate(121.90,43.60) scale(1,1)">100 %</text>
<text transform="translate(114.40,82.60) scale(1,1)">90 %</text>
<text transform="translate(107.65,117.60) scale(1,1)">80 %</text>
<text transform="translate(101.15,147.85) scale(1,1)">70 %</text>
<text transform="translate(93.40,174.40) scale(1,1)">60 %</text>
<text transform="translate(87.40,196.80) scale(1,1)">50 %</text>
<text transform="translate(81.20,215.40) scale(1,1)">40 %</text>
<text transform="translate(74.40,229.80) scale(1,1)">30 %</text>
</svg></body></html>
